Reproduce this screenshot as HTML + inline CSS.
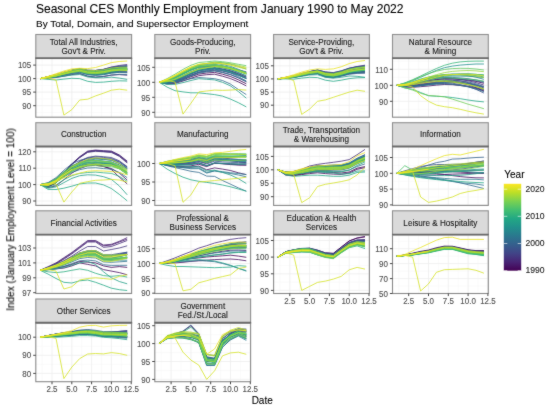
<!DOCTYPE html><html><head><meta charset="utf-8"><style>html,body{margin:0;padding:0;background:#fff;width:550px;height:409px;overflow:hidden}</style></head><body><svg width="550" height="409" viewBox="0 0 550 409" style="display:block">
<defs><filter id="bl" x="0" y="0" width="550" height="409" filterUnits="userSpaceOnUse" color-interpolation-filters="sRGB"><feConvolveMatrix order="3" kernelMatrix="0.0250 0.0500 0.0250 0.0500 0.7000 0.0500 0.0250 0.0500 0.0250" edgeMode="duplicate"/></filter></defs><g filter="url(#bl)">
<rect width="550" height="409" fill="#fff"/>
<clipPath id="c0"><rect x="35.8" y="58.5" width="95.8" height="58.7"/></clipPath>
<path d="M35.8 112.4H131.6M35.8 98.9H131.6M35.8 85.4H131.6M35.8 71.8H131.6M42.1 58.5V117.2M61.9 58.5V117.2M81.7 58.5V117.2M101.5 58.5V117.2M121.3 58.5V117.2" stroke="#f5f5f5" stroke-width="0.5" fill="none"/>
<path d="M35.8 105.7H131.6M35.8 92.1H131.6M35.8 78.6H131.6M35.8 65.1H131.6M52 58.5V117.2M71.8 58.5V117.2M91.6 58.5V117.2M111.4 58.5V117.2M131.2 58.5V117.2" stroke="#ededed" stroke-width="0.8" fill="none"/>
<g clip-path="url(#c0)" fill="none" stroke-width="1.0" stroke-linejoin="round" stroke-opacity="0.8">
<polyline points="40.2,78.6 48.1,77.6 56,76.4 63.9,74.6 71.8,72.7 79.7,71.6 87.7,73.8 95.6,74.6 103.5,73.8 111.4,72.5 119.3,71.9 127.2,72.3" stroke="#440154"/>
<polyline points="40.2,78.6 48.1,78.2 56,77.5 63.9,76.2 71.8,74.6 79.7,73.7 87.7,76.3 95.6,77.2 103.5,76.5 111.4,75.1 119.3,74.6 127.2,75.2" stroke="#450c5e"/>
<polyline points="40.2,78.6 48.1,77.1 56,75.5 63.9,73.5 71.8,71.8 79.7,70.8 87.7,73.1 95.6,74 103.5,73.4 111.4,71.9 119.3,71.2 127.2,71.2" stroke="#461769"/>
<polyline points="40.2,78.6 48.1,76.6 56,74.6 63.9,72.3 71.8,70.3 79.7,69.1 87.7,71.1 95.6,71.7 103.5,71 111.4,69.3 119.3,68.3 127.2,68" stroke="#482273"/>
<polyline points="40.2,78.6 48.1,76.7 56,74.9 63.9,72.4 71.8,70.5 79.7,69.1 87.7,70.4 95.6,70.5 103.5,69.3 111.4,67 119.3,65.5 127.2,64.5" stroke="#462c7a"/>
<polyline points="40.2,78.6 48.1,77.1 56,75.4 63.9,73.3 71.8,71.3 79.7,70.1 87.7,71.8 95.6,72.3 103.5,71.5 111.4,69.8 119.3,68.9 127.2,68.8" stroke="#44367f"/>
<polyline points="40.2,78.6 48.1,76.7 56,74.7 63.9,72.2 71.8,70 79.7,68.5 87.7,70.1 95.6,70.4 103.5,69.5 111.4,67.8 119.3,66.9 127.2,66.8" stroke="#424085"/>
<polyline points="40.2,78.6 48.1,77.1 56,75.4 63.9,73.1 71.8,71.1 79.7,69.5 87.7,70.6 95.6,70.5 103.5,69.4 111.4,67.3 119.3,66.2 127.2,65.6" stroke="#3f4988"/>
<polyline points="40.2,78.6 48.1,76.8 56,75 63.9,72.7 71.8,71 79.7,69.8 87.7,71.5 95.6,71.9 103.5,70.9 111.4,68.8 119.3,67.3 127.2,66.4" stroke="#3b528a"/>
<polyline points="40.2,78.6 48.1,76.7 56,74.8 63.9,72.4 71.8,70.5 79.7,69.1 87.7,70.5 95.6,70.8 103.5,69.8 111.4,67.8 119.3,66.5 127.2,65.8" stroke="#375a8c"/>
<polyline points="40.2,78.6 48.1,76.8 56,75 63.9,72.7 71.8,70.7 79.7,69.5 87.7,71.5 95.6,72.2 103.5,71.6 111.4,70.1 119.3,69.4 127.2,69.4" stroke="#34628d"/>
<polyline points="40.2,78.6 48.1,77.9 56,76.9 63.9,75.5 71.8,74 79.7,73.3 87.7,76 95.6,77.1 103.5,76.4 111.4,75.1 119.3,74.3 127.2,74.6" stroke="#306a8d"/>
<polyline points="40.2,78.6 48.1,77.8 56,76.8 63.9,75.2 71.8,73.5 79.7,72.4 87.7,74.5 95.6,75.2 103.5,74.4 111.4,73 119.3,72.4 127.2,72.8" stroke="#2d728e"/>
<polyline points="40.2,78.6 48.1,77.5 56,76.4 63.9,74.7 71.8,73.1 79.7,72.2 87.7,74.6 95.6,75.4 103.5,74.7 111.4,73.1 119.3,72.2 127.2,72" stroke="#297a8e"/>
<polyline points="40.2,78.6 48.1,77.5 56,76.1 63.9,74.2 71.8,72.3 79.7,70.9 87.7,72.5 95.6,72.8 103.5,71.9 111.4,70.1 119.3,69.3 127.2,69.3" stroke="#27818d"/>
<polyline points="40.2,78.6 48.1,77 56,75.2 63.9,72.9 71.8,70.8 79.7,69.4 87.7,70.9 95.6,71.4 103.5,70.6 111.4,69.1 119.3,68.5 127.2,68.7" stroke="#24898d"/>
<polyline points="40.2,78.6 48.1,77 56,75.3 63.9,73.1 71.8,71.1 79.7,69.8 87.7,71.4 95.6,71.7 103.5,70.7 111.4,68.8 119.3,67.6 127.2,67.1" stroke="#21918c"/>
<polyline points="40.2,78.6 48.1,77.3 56,75.9 63.9,74.1 71.8,72.5 79.7,71.5 87.7,73.7 95.6,74.4 103.5,73.7 111.4,72 119.3,71 127.2,70.7" stroke="#21988a"/>
<polyline points="40.2,78.6 48.1,77.8 56,77.2 63.9,76.2 71.8,75.1 79.7,74.5 87.7,77 95.6,77.8 103.5,77.8 111.4,77.2 119.3,78.1 127.2,79.4" stroke="#229f87"/>
<polyline points="40.2,78.6 48.1,79.4 56,80 63.9,79.1 71.8,78.3 79.7,78.6 87.7,81.3 95.6,82.4 103.5,82.1 111.4,81.3 119.3,80.8 127.2,81" stroke="#22a784"/>
<polyline points="40.2,78.6 48.1,77.3 56,75.9 63.9,74 71.8,72.2 79.7,71.2 87.7,73.3 95.6,73.9 103.5,73.1 111.4,71.4 119.3,70.4 127.2,70.3" stroke="#2aae7f"/>
<polyline points="40.2,78.6 48.1,77 56,75.3 63.9,73.2 71.8,71.2 79.7,70 87.7,72 95.6,72.6 103.5,71.9 111.4,70.4 119.3,69.6 127.2,69.7" stroke="#35b579"/>
<polyline points="40.2,78.6 48.1,77.3 56,75.8 63.9,73.7 71.8,71.8 79.7,70.5 87.7,72.3 95.6,72.7 103.5,71.8 111.4,70.1 119.3,69.2 127.2,69.1" stroke="#40bc72"/>
<polyline points="40.2,78.6 48.1,77.2 56,75.7 63.9,73.6 71.8,71.8 79.7,70.6 87.7,72.6 95.6,73.1 103.5,72.2 111.4,70.4 119.3,69.4 127.2,69.1" stroke="#4ec26a"/>
<polyline points="40.2,78.6 48.1,77 56,75.3 63.9,73 71.8,71 79.7,69.5 87.7,71.2 95.6,71.6 103.5,70.9 111.4,69.4 119.3,68.9 127.2,69.2" stroke="#5fc860"/>
<polyline points="40.2,78.6 48.1,77.4 56,76 63.9,74 71.8,72.1 79.7,70.9 87.7,72.6 95.6,73.1 103.5,72.2 111.4,70.5 119.3,69.6 127.2,69.5" stroke="#70ce57"/>
<polyline points="40.2,78.6 48.1,77.3 56,75.9 63.9,73.8 71.8,72 79.7,70.7 87.7,72.4 95.6,72.7 103.5,71.7 111.4,69.9 119.3,68.8 127.2,68.5" stroke="#82d34c"/>
<polyline points="40.2,78.6 48.1,77.4 56,76.1 63.9,74.2 71.8,72.5 79.7,71.4 87.7,73.3 95.6,73.7 103.5,72.9 111.4,71.1 119.3,70 127.2,69.7" stroke="#97d73e"/>
<polyline points="40.2,78.6 48.1,76.7 56,74.7 63.9,72.3 71.8,70.1 79.7,68.7 87.7,70.2 95.6,70.6 103.5,69.8 111.4,68.1 119.3,67.3 127.2,67.2" stroke="#acdc31"/>
<polyline points="40.2,78.6 48.1,77.3 56,75.8 63.9,73.7 71.8,71.6 79.7,70.2 87.7,71.9 95.6,72.4 103.5,71.7 111.4,70.3 119.3,70 127.2,70.6" stroke="#c1e026"/>
<polyline points="40.2,78.6 48.1,78.1 56,80 63.9,115.1 71.8,109.7 79.7,100 87.7,99.2 95.6,95.9 103.5,93.2 111.4,90.2 119.3,89.2 127.2,90.2" stroke="#d5e226"/>
<polyline points="40.2,78.6 48.1,76.4 56,73.7 63.9,71 71.8,68.9 79.7,68.3 87.7,68.6 95.6,67.5 103.5,65.1 111.4,62.6 119.3,61.5 127.2,61" stroke="#e9e425"/>
<polyline points="40.2,78.6 48.1,76.5 56,74.5 63.9,72 71.8,70" stroke="#fde725"/>
</g>
<rect x="35.8" y="58.5" width="95.8" height="58.7" fill="none" stroke="#8a8a8a" stroke-width="1.1"/>
<rect x="35.8" y="34.5" width="95.8" height="24" fill="#dadada" stroke="#909090" stroke-width="1.1"/>
<path d="M35.3 58.2H132.1" stroke="#6a6a6a" stroke-width="1.7"/>
<path d="M33.2 105.7H35.8M33.2 92.1H35.8M33.2 78.6H35.8M33.2 65.1H35.8" stroke="#333" stroke-width="0.9"/>
<clipPath id="c1"><rect x="154.8" y="58.5" width="95.8" height="58.7"/></clipPath>
<path d="M154.8 104.8H250.6M154.8 89.8H250.6M154.8 74.8H250.6M154.8 59.8H250.6M161.2 58.5V117.2M181 58.5V117.2M200.8 58.5V117.2M220.6 58.5V117.2M240.4 58.5V117.2" stroke="#f5f5f5" stroke-width="0.5" fill="none"/>
<path d="M154.8 112.3H250.6M154.8 97.3H250.6M154.8 82.3H250.6M154.8 67.3H250.6M171.1 58.5V117.2M190.9 58.5V117.2M210.7 58.5V117.2M230.5 58.5V117.2M250.3 58.5V117.2" stroke="#ededed" stroke-width="0.8" fill="none"/>
<g clip-path="url(#c1)" fill="none" stroke-width="1.0" stroke-linejoin="round" stroke-opacity="0.8">
<polyline points="159.2,82.3 167.1,83.5 175,82.5 183,79.8 190.9,76.8 198.8,74.1 206.7,73 214.6,72.4 222.5,74.2 230.5,76.5 238.4,79.8 246.3,83.8" stroke="#440154"/>
<polyline points="159.2,82.3 167.1,84 175,83.4 183,81 190.9,78.3 198.8,75.7 206.7,74.7 214.6,74.2 222.5,76.2 230.5,78.6 238.4,81.9 246.3,85.9" stroke="#450c5e"/>
<polyline points="159.2,82.3 167.1,82.1 175,80.2 183,76.8 190.9,73.3 198.8,70.2 206.7,68.8 214.6,67.8 222.5,69 230.5,70.8 238.4,73.6 246.3,77" stroke="#461769"/>
<polyline points="159.2,82.3 167.1,82.4 175,80.8 183,77.5 190.9,74 198.8,70.8 206.7,69.3 214.6,68.2 222.5,69.5 230.5,71.5 238.4,74.6 246.3,78.4" stroke="#482273"/>
<polyline points="159.2,82.3 167.1,80.2 175,77.1 183,73.2 190.9,69.7 198.8,67.2 206.7,66.7 214.6,66.1 222.5,67 230.5,68.3 238.4,70 246.3,71.8" stroke="#462c7a"/>
<polyline points="159.2,82.3 167.1,82.9 175,81.5 183,78.6 190.9,75.3 198.8,72.5 206.7,71.3 214.6,70.6 222.5,72.3 230.5,74.5 238.4,77.8 246.3,81.7" stroke="#44367f"/>
<polyline points="159.2,82.3 167.1,81.6 175,79.3 183,75.6 190.9,71.8 198.8,68.6 206.7,67.2 214.6,66.2 222.5,67.5 230.5,69.5 238.4,72.5 246.3,76.1" stroke="#424085"/>
<polyline points="159.2,82.3 167.1,80.7 175,77.7 183,73.6 190.9,69.8 198.8,66.8 206.7,65.7 214.6,64.9 222.5,66.2 230.5,67.9 238.4,70.5 246.3,73.4" stroke="#3f4988"/>
<polyline points="159.2,82.3 167.1,82.2 175,80.5 183,77.2 190.9,73.7 198.8,70.6 206.7,69.2 214.6,68.1 222.5,69.2 230.5,71 238.4,73.9 246.3,77.4" stroke="#3b528a"/>
<polyline points="159.2,82.3 167.1,82.7 175,81.2 183,78.2 190.9,75 198.8,72.2 206.7,71 214.6,70 222.5,71.2 230.5,72.8 238.4,75.3 246.3,78.4" stroke="#375a8c"/>
<polyline points="159.2,82.3 167.1,83.3 175,82.2 183,79.1 190.9,75.6 198.8,72.1 206.7,70.4 214.6,69.2 222.5,70.6 230.5,72.9 238.4,76.6 246.3,81" stroke="#34628d"/>
<polyline points="159.2,82.3 167.1,83.5 175,82.6 183,80.5 190.9,78.7 198.8,77.5 206.7,78.1 214.6,78.7 222.5,80.5 230.5,84.1 238.4,89.5 246.3,94.6" stroke="#306a8d"/>
<polyline points="159.2,82.3 167.1,83.2 175,82.1 183,79.3 190.9,76.1 198.8,73.2 206.7,71.9 214.6,71 222.5,72.6 230.5,74.7 238.4,77.8 246.3,81.6" stroke="#2d728e"/>
<polyline points="159.2,82.3 167.1,82 175,80.1 183,76.9 190.9,73.5 198.8,70.8 206.7,69.7 214.6,69 222.5,70.5 230.5,72.4 238.4,75.2 246.3,78.5" stroke="#297a8e"/>
<polyline points="159.2,82.3 167.1,80.6 175,77.6 183,73.4 190.9,69.3 198.8,65.9 206.7,64.5 214.6,63.4 222.5,64.5 230.5,66.4 238.4,69.3 246.3,72.6" stroke="#27818d"/>
<polyline points="159.2,82.3 167.1,80.2 175,77 183,72.6 190.9,68.4 198.8,65 206.7,63.5 214.6,62.2 222.5,62.8 230.5,64.2 238.4,66.4 246.3,69" stroke="#24898d"/>
<polyline points="159.2,82.3 167.1,81 175,78.2 183,74.1 190.9,70.2 198.8,67 206.7,65.6 214.6,64.7 222.5,66 230.5,67.9 238.4,70.9 246.3,74.3" stroke="#21918c"/>
<polyline points="159.2,82.3 167.1,82.2 175,80.4 183,77 190.9,73.5 198.8,70.4 206.7,69.1 214.6,68.2 222.5,69.6 230.5,71.7 238.4,74.9 246.3,78.6" stroke="#21988a"/>
<polyline points="159.2,82.3 167.1,84.4 175,84.4 183,82.6 190.9,80.5 198.8,78.7 206.7,79.3 214.6,79.9 222.5,82.3 230.5,85.9 238.4,91.6 246.3,98.2" stroke="#229f87"/>
<polyline points="159.2,82.3 167.1,87.1 175,90.7 183,91.9 190.9,92.8 198.8,92.8 206.7,93.7 214.6,94.6 222.5,96.1 230.5,99.1 238.4,102.7 246.3,106.9" stroke="#22a784"/>
<polyline points="159.2,82.3 167.1,81.9 175,79.9 183,76.4 190.9,72.8 198.8,69.5 206.7,68.1 214.6,66.9 222.5,67.9 230.5,69.6 238.4,72.5 246.3,75.8" stroke="#2aae7f"/>
<polyline points="159.2,82.3 167.1,80.8 175,78.1 183,74.1 190.9,70.2 198.8,67 206.7,65.8 214.6,64.8 222.5,65.8 230.5,67.6 238.4,70.4 246.3,73.6" stroke="#35b579"/>
<polyline points="159.2,82.3 167.1,80.6 175,77.6 183,73.6 190.9,70 198.8,67.3 206.7,66.5 214.6,65.9 222.5,67.2 230.5,68.9 238.4,71.2 246.3,73.8" stroke="#40bc72"/>
<polyline points="159.2,82.3 167.1,79.8 175,76.3 183,72.1 190.9,68.5 198.8,65.9 206.7,65.4 214.6,65 222.5,66.2 230.5,67.8 238.4,70 246.3,72.3" stroke="#4ec26a"/>
<polyline points="159.2,82.3 167.1,78.6 175,74.2 183,69.4 190.9,65.3 198.8,62.5 206.7,61.8 214.6,61 222.5,61.7 230.5,62.8 238.4,64.3 246.3,65.7" stroke="#5fc860"/>
<polyline points="159.2,82.3 167.1,81.2 175,78.8 183,75.2 190.9,71.6 198.8,68.7 206.7,67.5 214.6,66.5 222.5,67.3 230.5,68.6 238.4,70.6 246.3,73" stroke="#70ce57"/>
<polyline points="159.2,82.3 167.1,80.2 175,76.9 183,72.7 190.9,68.9 198.8,66.1 206.7,65.4 214.6,64.8 222.5,66.2 230.5,68 238.4,70.6 246.3,73.4" stroke="#82d34c"/>
<polyline points="159.2,82.3 167.1,79.7 175,76.2 183,71.8 190.9,67.7 198.8,64.6 206.7,63.4 214.6,62.3 222.5,62.7 230.5,63.7 238.4,65.4 246.3,67.2" stroke="#97d73e"/>
<polyline points="159.2,82.3 167.1,79.3 175,75.6 183,71.2 190.9,67.3 198.8,64.6 206.7,63.8 214.6,63.1 222.5,63.9 230.5,65.3 238.4,67.2 246.3,69.1" stroke="#acdc31"/>
<polyline points="159.2,82.3 167.1,81.6 175,79.4 183,75.9 190.9,72.2 198.8,69.1 206.7,67.7 214.6,66.4 222.5,67.2 230.5,68.7 238.4,71 246.3,73.8" stroke="#c1e026"/>
<polyline points="159.2,82.3 167.1,80.5 175,82 183,114.1 190.9,103.3 198.8,91.9 206.7,91 214.6,90.1 222.5,90.4 230.5,90.1 238.4,89.5 246.3,90.1" stroke="#d5e226"/>
<polyline points="159.2,82.3 167.1,79.2 175,75.3 183,70.8 190.9,66.9 198.8,64.2 206.7,63.5 214.6,62.9 222.5,63.7 230.5,64.8 238.4,66.5 246.3,68.1" stroke="#e9e425"/>
<polyline points="159.2,82.3 167.1,79.5 175,75.8 183,71.3 190.9,67.2" stroke="#fde725"/>
</g>
<rect x="154.8" y="58.5" width="95.8" height="58.7" fill="none" stroke="#8a8a8a" stroke-width="1.1"/>
<rect x="154.8" y="34.5" width="95.8" height="24" fill="#dadada" stroke="#909090" stroke-width="1.1"/>
<path d="M154.3 58.2H251.1" stroke="#6a6a6a" stroke-width="1.7"/>
<path d="M152.2 112.3H154.8M152.2 97.3H154.8M152.2 82.3H154.8M152.2 67.3H154.8" stroke="#333" stroke-width="0.9"/>
<clipPath id="c2"><rect x="273.6" y="58.5" width="95.8" height="58.7"/></clipPath>
<path d="M273.6 111.8H369.4M273.6 98.6H369.4M273.6 85.5H369.4M273.6 72.3H369.4M273.6 59.2H369.4M279.9 58.5V117.2M299.7 58.5V117.2M319.5 58.5V117.2M339.3 58.5V117.2M359.1 58.5V117.2" stroke="#f5f5f5" stroke-width="0.5" fill="none"/>
<path d="M273.6 105.2H369.4M273.6 92.1H369.4M273.6 78.9H369.4M273.6 65.8H369.4M289.8 58.5V117.2M309.6 58.5V117.2M329.4 58.5V117.2M349.2 58.5V117.2M369 58.5V117.2" stroke="#ededed" stroke-width="0.8" fill="none"/>
<g clip-path="url(#c2)" fill="none" stroke-width="1.0" stroke-linejoin="round" stroke-opacity="0.8">
<polyline points="277.9,78.9 285.8,77.8 293.7,76.5 301.7,74.8 309.6,73.1 317.5,72.6 325.4,75.9 333.3,76.7 341.2,75.4 349.2,73.3 357.1,72.3 365,71.9" stroke="#440154"/>
<polyline points="277.9,78.9 285.8,78.2 293.7,77.2 301.7,75.6 309.6,73.9 317.5,73.4 325.4,76.6 333.3,77.2 341.2,75.8 349.2,73.8 357.1,73 365,72.8" stroke="#450c5e"/>
<polyline points="277.9,78.9 285.8,78.3 293.7,77.4 301.7,75.8 309.6,74.2 317.5,73.4 325.4,76.3 333.3,76.8 341.2,75.2 349.2,73 357.1,71.9 365,71.5" stroke="#461769"/>
<polyline points="277.9,78.9 285.8,78 293.7,76.8 301.7,74.9 309.6,73.1 317.5,72 325.4,74.6 333.3,75.3 341.2,73.7 349.2,71.4 357.1,70.3 365,70" stroke="#482273"/>
<polyline points="277.9,78.9 285.8,77.3 293.7,75.6 301.7,73.4 309.6,71.5 317.5,70 325.4,72.2 333.3,73.2 341.2,71.4 349.2,68.5 357.1,66.5 365,65.2" stroke="#462c7a"/>
<polyline points="277.9,78.9 285.8,77.4 293.7,75.7 301.7,73.6 309.6,71.7 317.5,70.6 325.4,73.3 333.3,74.2 341.2,72.7 349.2,70.3 357.1,68.9 365,68.2" stroke="#44367f"/>
<polyline points="277.9,78.9 285.8,77.6 293.7,76 301.7,73.8 309.6,71.7 317.5,70.1 325.4,72.1 333.3,72.8 341.2,71 349.2,68.3 357.1,66.9 365,66.1" stroke="#424085"/>
<polyline points="277.9,78.9 285.8,77.6 293.7,76 301.7,73.8 309.6,71.7 317.5,70 325.4,71.9 333.3,72.6 341.2,70.8 349.2,68.1 357.1,66.6 365,65.9" stroke="#3f4988"/>
<polyline points="277.9,78.9 285.8,77.7 293.7,76.2 301.7,74.2 309.6,72.3 317.5,70.8 325.4,73 333.3,73.6 341.2,71.7 349.2,68.9 357.1,67.1 365,66" stroke="#3b528a"/>
<polyline points="277.9,78.9 285.8,77.7 293.7,76.3 301.7,74.2 309.6,72.3 317.5,70.9 325.4,73.1 333.3,73.8 341.2,72 349.2,69.4 357.1,67.8 365,67" stroke="#375a8c"/>
<polyline points="277.9,78.9 285.8,78 293.7,76.8 301.7,75.1 309.6,73.4 317.5,72.5 325.4,75.1 333.3,75.8 341.2,74 349.2,71.4 357.1,69.8 365,68.8" stroke="#34628d"/>
<polyline points="277.9,78.9 285.8,78.2 293.7,77.3 301.7,75.8 309.6,74.2 317.5,73.8 325.4,77.1 333.3,77.8 341.2,76.3 349.2,74.3 357.1,73.4 365,73.1" stroke="#306a8d"/>
<polyline points="277.9,78.9 285.8,78 293.7,76.8 301.7,75.1 309.6,73.5 317.5,72.8 325.4,75.9 333.3,76.7 341.2,75.3 349.2,73.3 357.1,72.4 365,72.1" stroke="#2d728e"/>
<polyline points="277.9,78.9 285.8,78.3 293.7,77.4 301.7,75.8 309.6,74.3 317.5,73.5 325.4,76.4 333.3,77.1 341.2,75.5 349.2,73.3 357.1,72.2 365,71.8" stroke="#297a8e"/>
<polyline points="277.9,78.9 285.8,77.8 293.7,76.5 301.7,74.6 309.6,72.9 317.5,71.9 325.4,74.6 333.3,75.3 341.2,73.7 349.2,71.3 357.1,70 365,69.4" stroke="#27818d"/>
<polyline points="277.9,78.9 285.8,77.9 293.7,76.6 301.7,74.6 309.6,72.7 317.5,71.4 325.4,73.7 333.3,74.3 341.2,72.5 349.2,69.9 357.1,68.4 365,67.7" stroke="#24898d"/>
<polyline points="277.9,78.9 285.8,77.9 293.7,76.6 301.7,74.8 309.6,73.1 317.5,72.1 325.4,74.8 333.3,75.6 341.2,73.9 349.2,71.5 357.1,70.1 365,69.3" stroke="#21918c"/>
<polyline points="277.9,78.9 285.8,77.9 293.7,76.7 301.7,75 309.6,73.5 317.5,72.9 325.4,76 333.3,76.9 341.2,75.3 349.2,72.7 357.1,71.1 365,70" stroke="#21988a"/>
<polyline points="277.9,78.9 285.8,78.1 293.7,77.6 301.7,76.3 309.6,75 317.5,74.7 325.4,77.3 333.3,78.1 341.2,77.3 349.2,76 357.1,76.3 365,77.3" stroke="#229f87"/>
<polyline points="277.9,78.9 285.8,78.9 293.7,79.2 301.7,78.1 309.6,77.3 317.5,77.6 325.4,80.2 333.3,81.3 341.2,80.2 349.2,78.6 357.1,77.8 365,77.6" stroke="#22a784"/>
<polyline points="277.9,78.9 285.8,77.5 293.7,76 301.7,74.1 309.6,72.4 317.5,71.8 325.4,74.9 333.3,75.9 341.2,74.5 349.2,72.3 357.1,71.1 365,70.5" stroke="#2aae7f"/>
<polyline points="277.9,78.9 285.8,77.7 293.7,76.2 301.7,74.3 309.6,72.6 317.5,71.8 325.4,74.6 333.3,75.5 341.2,74 349.2,71.5 357.1,70.1 365,69.3" stroke="#35b579"/>
<polyline points="277.9,78.9 285.8,77.6 293.7,76.1 301.7,74.1 309.6,72.5 317.5,71.8 325.4,74.8 333.3,75.9 341.2,74.5 349.2,72.2 357.1,70.9 365,70.1" stroke="#40bc72"/>
<polyline points="277.9,78.9 285.8,77.6 293.7,76.1 301.7,74.1 309.6,72.4 317.5,71.6 325.4,74.6 333.3,75.6 341.2,74.2 349.2,72 357.1,70.8 365,70.3" stroke="#4ec26a"/>
<polyline points="277.9,78.9 285.8,77.7 293.7,76.1 301.7,74 309.6,72 317.5,70.6 325.4,72.9 333.3,73.5 341.2,71.7 349.2,69.2 357.1,67.8 365,67.1" stroke="#5fc860"/>
<polyline points="277.9,78.9 285.8,77.9 293.7,76.6 301.7,74.6 309.6,72.8 317.5,71.4 325.4,73.6 333.3,74.2 341.2,72.3 349.2,69.5 357.1,67.7 365,66.7" stroke="#70ce57"/>
<polyline points="277.9,78.9 285.8,78 293.7,76.9 301.7,75.1 309.6,73.5 317.5,72.6 325.4,75.3 333.3,76 341.2,74.3 349.2,71.6 357.1,70 365,69" stroke="#82d34c"/>
<polyline points="277.9,78.9 285.8,77.8 293.7,76.5 301.7,74.7 309.6,73.1 317.5,72.2 325.4,75 333.3,75.7 341.2,74 349.2,71.5 357.1,69.9 365,68.9" stroke="#97d73e"/>
<polyline points="277.9,78.9 285.8,77.6 293.7,76.1 301.7,74.1 309.6,72.3 317.5,71.2 325.4,73.9 333.3,74.8 341.2,73.3 349.2,71 357.1,69.8 365,69.3" stroke="#acdc31"/>
<polyline points="277.9,78.9 285.8,77.7 293.7,76.2 301.7,74.2 309.6,72.3 317.5,71.1 325.4,73.6 333.3,74.3 341.2,72.5 349.2,69.9 357.1,68.4 365,67.6" stroke="#c1e026"/>
<polyline points="277.9,78.9 285.8,77.8 293.7,80.5 301.7,114.4 309.6,109.1 317.5,101.3 325.4,99.9 333.3,97.3 341.2,94.7 349.2,92.1 357.1,90.2 365,91.3" stroke="#d5e226"/>
<polyline points="277.9,78.9 285.8,77.1 293.7,74.7 301.7,72.1 309.6,70 317.5,68.9 325.4,69.4 333.3,68.9 341.2,66.8 349.2,63.6 357.1,61.5 365,60.5" stroke="#e9e425"/>
<polyline points="277.9,78.9 285.8,77.3 293.7,75.4 301.7,73.1 309.6,71.1" stroke="#fde725"/>
</g>
<rect x="273.6" y="58.5" width="95.8" height="58.7" fill="none" stroke="#8a8a8a" stroke-width="1.1"/>
<rect x="273.6" y="34.5" width="95.8" height="24" fill="#dadada" stroke="#909090" stroke-width="1.1"/>
<path d="M273.1 58.2H369.9" stroke="#6a6a6a" stroke-width="1.7"/>
<path d="M270.9 105.2H273.6M270.9 92.1H273.6M270.9 78.9H273.6M270.9 65.8H273.6" stroke="#333" stroke-width="0.9"/>
<clipPath id="c3"><rect x="392.5" y="58.5" width="95.8" height="58.7"/></clipPath>
<path d="M392.5 109.3H488.3M392.5 93.3H488.3M392.5 77.3H488.3M392.5 61.3H488.3M398.8 58.5V117.2M418.6 58.5V117.2M438.4 58.5V117.2M458.2 58.5V117.2M478 58.5V117.2" stroke="#f5f5f5" stroke-width="0.5" fill="none"/>
<path d="M392.5 101.3H488.3M392.5 85.3H488.3M392.5 69.3H488.3M408.7 58.5V117.2M428.5 58.5V117.2M448.3 58.5V117.2M468.1 58.5V117.2M487.9 58.5V117.2" stroke="#ededed" stroke-width="0.8" fill="none"/>
<g clip-path="url(#c3)" fill="none" stroke-width="1.0" stroke-linejoin="round" stroke-opacity="0.8">
<polyline points="396.9,85.3 404.8,85.4 412.7,84 420.6,82.3 428.5,80.8 436.4,79.5 444.4,78.7 452.3,78.8 460.2,79.3 468.1,80.1 476,81.4 483.9,83.3" stroke="#440154"/>
<polyline points="396.9,85.3 404.8,87.1 412.7,87.3 420.6,86.7 428.5,86 436.4,85.1 444.4,84.5 452.3,84.7 460.2,85.5 468.1,86.6 476,88.4 483.9,90.8" stroke="#450c5e"/>
<polyline points="396.9,85.3 404.8,86.6 412.7,86.2 420.6,85 428.5,83.6 436.4,82.2 444.4,81.1 452.3,81.1 460.2,82 468.1,83.6 476,86.1 483.9,89.3" stroke="#461769"/>
<polyline points="396.9,85.3 404.8,86.2 412.7,85.5 420.6,84.2 428.5,83 436.4,81.9 444.4,81.2 452.3,81.7 460.2,83 468.1,84.9 476,87.6 483.9,91" stroke="#482273"/>
<polyline points="396.9,85.3 404.8,85.5 412.7,84.3 420.6,82.6 428.5,81 436.4,79.6 444.4,78.7 452.3,78.8 460.2,79.6 468.1,80.8 476,82.6 483.9,85.1" stroke="#462c7a"/>
<polyline points="396.9,85.3 404.8,85.9 412.7,85 420.6,83.4 428.5,81.9 436.4,80.5 444.4,79.6 452.3,79.9 460.2,80.9 468.1,82.6 476,85 483.9,88.1" stroke="#44367f"/>
<polyline points="396.9,85.3 404.8,86.3 412.7,85.8 420.6,84.9 428.5,84.2 436.4,83.7 444.4,83.5 452.3,84.2 460.2,85.2 468.1,86.3 476,87.7 483.9,89.7" stroke="#424085"/>
<polyline points="396.9,85.3 404.8,84.6 412.7,82.8 420.6,80.7 428.5,79.2 436.4,78.2 444.4,77.7 452.3,78.2 460.2,79 468.1,79.8 476,80.9 483.9,82.4" stroke="#3f4988"/>
<polyline points="396.9,85.3 404.8,86.7 412.7,86.5 420.6,85.6 428.5,84.5 436.4,83.4 444.4,82.7 452.3,83.2 460.2,84.5 468.1,86.5 476,89.4 483.9,93" stroke="#3b528a"/>
<polyline points="396.9,85.3 404.8,86.7 412.7,86.3 420.6,85.2 428.5,83.7 436.4,82.1 444.4,80.7 452.3,80.4 460.2,80.8 468.1,81.9 476,83.8 483.9,86.5" stroke="#375a8c"/>
<polyline points="396.9,85.3 404.8,86.5 412.7,86.1 420.6,85.1 428.5,84.1 436.4,83 444.4,82.3 452.3,82.3 460.2,82.8 468.1,83.6 476,85 483.9,87" stroke="#34628d"/>
<polyline points="396.9,85.3 404.8,86.6 412.7,86.4 420.6,85.4 428.5,84.3 436.4,83 444.4,82.1 452.3,82 460.2,82.5 468.1,83.4 476,84.9 483.9,87.1" stroke="#306a8d"/>
<polyline points="396.9,85.3 404.8,86.7 412.7,86.5 420.6,85.8 428.5,85 436.4,84.2 444.4,83.8 452.3,84.3 460.2,85.4 468.1,86.9 476,89 483.9,91.7" stroke="#2d728e"/>
<polyline points="396.9,85.3 404.8,85.1 412.7,83.6 420.6,81.6 428.5,79.9 436.4,78.4 444.4,77.5 452.3,77.4 460.2,77.9 468.1,78.7 476,79.9 483.9,81.7" stroke="#297a8e"/>
<polyline points="396.9,85.3 404.8,84.5 412.7,82.4 420.6,79.9 428.5,77.7 436.4,75.8 444.4,74.5 452.3,74.2 460.2,74.7 468.1,75.6 476,77.2 483.9,79.3" stroke="#27818d"/>
<polyline points="396.9,85.3 404.8,84.6 412.7,82.7 420.6,80.5 428.5,78.7 436.4,77.3 444.4,76.3 452.3,76.1 460.2,76.1 468.1,76.3 476,76.8 483.9,77.6" stroke="#24898d"/>
<polyline points="396.9,85.3 404.8,83.2 412.7,80.5 420.6,77.3 428.5,73.8 436.4,70.4 444.4,67.7 452.3,66.1 460.2,65.1 468.1,64.5 476,64 483.9,64" stroke="#21918c"/>
<polyline points="396.9,85.3 404.8,85 412.7,83.4 420.6,81.2 428.5,78.9 436.4,76.9 444.4,75.1 452.3,74.1 460.2,73.7 468.1,73.7 476,74.3 483.9,75.4" stroke="#21988a"/>
<polyline points="396.9,85.3 404.8,85.2 412.7,83.7 420.6,81.5 428.5,79.5 436.4,77.5 444.4,75.9 452.3,75.1 460.2,74.8 468.1,74.9 476,75.6 483.9,76.9" stroke="#229f87"/>
<polyline points="396.9,85.3 404.8,88 412.7,89.3 420.6,92.5 428.5,95.7 436.4,96.3 444.4,96.7 452.3,97.5 460.2,98.7 468.1,100 476,101.1 483.9,101.9" stroke="#22a784"/>
<polyline points="396.9,85.3 404.8,84 412.7,81.6 420.6,79 428.5,77.1 436.4,75.7 444.4,74.8 452.3,74.6 460.2,74.6 468.1,74.5 476,74.6 483.9,75" stroke="#2aae7f"/>
<polyline points="396.9,85.3 404.8,82.9 412.7,79.7 420.6,76 428.5,72.2 436.4,68.5 444.4,65.3 452.3,63.2 460.2,61.9 468.1,61.3 476,61.1 483.9,61.1" stroke="#35b579"/>
<polyline points="396.9,85.3 404.8,84.5 412.7,82.4 420.6,80 428.5,78 436.4,76.4 444.4,75.1 452.3,74.6 460.2,74.4 468.1,74.2 476,74.4 483.9,75" stroke="#40bc72"/>
<polyline points="396.9,85.3 404.8,84.7 412.7,83 420.6,81 428.5,79.5 436.4,78.4 444.4,77.9 452.3,78.1 460.2,78.6 468.1,79.1 476,79.9 483.9,81.1" stroke="#4ec26a"/>
<polyline points="396.9,85.3 404.8,83.2 412.7,80.1 420.6,76.6 428.5,73.7 436.4,71.2 444.4,69.5 452.3,68.6 460.2,68.3 468.1,68.4 476,69 483.9,70" stroke="#5fc860"/>
<polyline points="396.9,85.3 404.8,87.7 412.7,90.1 420.6,93.3 428.5,95.5 436.4,96 444.4,96.8 452.3,99.1 460.2,101.6 468.1,104.2 476,106.4 483.9,108.7" stroke="#70ce57"/>
<polyline points="396.9,85.3 404.8,85.3 412.7,84 420.6,82.4 428.5,81.2 436.4,80.5 444.4,80.3 452.3,81.1 460.2,82.6 468.1,84.3 476,86.5 483.9,89.3" stroke="#82d34c"/>
<polyline points="396.9,85.3 404.8,84.5 412.7,82.4 420.6,79.7 428.5,77.1 436.4,74.7 444.4,72.6 452.3,71.4 460.2,70.8 468.1,70.5 476,70.9 483.9,71.7" stroke="#97d73e"/>
<polyline points="396.9,85.3 404.8,84.4 412.7,82.2 420.6,79.7 428.5,77.6 436.4,75.9 444.4,74.7 452.3,74.5 460.2,74.7 468.1,75.2 476,76.1 483.9,77.5" stroke="#acdc31"/>
<polyline points="396.9,85.3 404.8,85.7 412.7,84.6 420.6,83.3 428.5,82.3 436.4,81.6 444.4,81.4 452.3,82.1 460.2,83.4 468.1,84.7 476,86.5 483.9,88.8" stroke="#c1e026"/>
<polyline points="396.9,85.3 404.8,85 412.7,87.1 420.6,95.7 428.5,101.3 436.4,105.1 444.4,106.7 452.3,107.7 460.2,109.3 468.1,111.2 476,112.8 483.9,114.1" stroke="#d5e226"/>
<polyline points="396.9,85.3 404.8,85.1 412.7,83.5 420.6,81.3 428.5,79.2 436.4,77.2 444.4,75.5 452.3,74.6 460.2,74.2 468.1,74.2 476,74.7 483.9,75.8" stroke="#e9e425"/>
<polyline points="396.9,85.3 404.8,84.6 412.7,82.6 420.6,80.1 428.5,77.6" stroke="#fde725"/>
</g>
<rect x="392.5" y="58.5" width="95.8" height="58.7" fill="none" stroke="#8a8a8a" stroke-width="1.1"/>
<rect x="392.5" y="34.5" width="95.8" height="24" fill="#dadada" stroke="#909090" stroke-width="1.1"/>
<path d="M392 58.2H488.8" stroke="#6a6a6a" stroke-width="1.7"/>
<path d="M389.9 101.3H392.5M389.9 85.3H392.5M389.9 69.3H392.5" stroke="#333" stroke-width="0.9"/>
<clipPath id="c4"><rect x="35.8" y="146.7" width="95.8" height="58.7"/></clipPath>
<path d="M35.8 192.8H131.6M35.8 176.4H131.6M35.8 160H131.6M42.1 146.7V205.4M61.9 146.7V205.4M81.7 146.7V205.4M101.5 146.7V205.4M121.3 146.7V205.4" stroke="#f5f5f5" stroke-width="0.5" fill="none"/>
<path d="M35.8 201H131.6M35.8 184.6H131.6M35.8 168.2H131.6M35.8 151.8H131.6M52 146.7V205.4M71.8 146.7V205.4M91.6 146.7V205.4M111.4 146.7V205.4M131.2 146.7V205.4" stroke="#ededed" stroke-width="0.8" fill="none"/>
<g clip-path="url(#c4)" fill="none" stroke-width="1.0" stroke-linejoin="round" stroke-opacity="0.8">
<polyline points="40.2,184.6 48.1,185.6 56,182 63.9,176.1 71.8,170.2 79.7,165.9 87.7,164.3 95.6,163.9 103.5,166.2 111.4,169.5 119.3,177.1 127.2,183.9" stroke="#440154"/>
<polyline points="40.2,184.6 48.1,187.6 56,185.9 63.9,179.7 71.8,173.1 79.7,168.5 87.7,165.9 95.6,165.2 103.5,166.6 111.4,168.5 119.3,173.1 127.2,180" stroke="#450c5e"/>
<polyline points="40.2,184.6 48.1,186.7 56,183.1 63.9,173.4 71.8,164.4 79.7,157.4 87.7,152 95.6,150.8 103.5,151.5 111.4,152 119.3,155.9 127.2,162.3" stroke="#461769"/>
<polyline points="40.2,184.6 48.1,186.6 56,183 63.9,173.1 71.8,163.9 79.7,156.7 87.7,151.1 95.6,150 103.5,150.7 111.4,151.1 119.3,154.9 127.2,161.1" stroke="#482273"/>
<polyline points="40.2,184.6 48.1,186.4 56,182.8 63.9,173.1 71.8,164.1 79.7,157 87.7,151.5 95.6,150.5 103.5,151 111.4,151.5 119.3,155.4 127.2,161.8" stroke="#462c7a"/>
<polyline points="40.2,184.6 48.1,186.4 56,183 63.9,173.4 71.8,164.6 79.7,157.7 87.7,152.3 95.6,151.3 103.5,151.8 111.4,152.5 119.3,156.4 127.2,163" stroke="#44367f"/>
<polyline points="40.2,184.6 48.1,186.2 56,182.6 63.9,175.6 71.8,168.2 79.7,161.1 87.7,157.4 95.6,156.1 103.5,156.7 111.4,157.5 119.3,160.8 127.2,166.6" stroke="#424085"/>
<polyline points="40.2,184.6 48.1,186.1 56,182.3 63.9,175.1 71.8,167.9 79.7,161.6 87.7,158 95.6,156.7 103.5,157.4 111.4,158.4 119.3,161.6 127.2,167.5" stroke="#3f4988"/>
<polyline points="40.2,184.6 48.1,184.1 56,180.5 63.9,173.7 71.8,166.9 79.7,162.7 87.7,159.6 95.6,158.2 103.5,158.5 111.4,159.2 119.3,162.1 127.2,166.9" stroke="#3b528a"/>
<polyline points="40.2,184.6 48.1,182.6 56,177.7 63.9,170.3 71.8,163.8 79.7,160.4 87.7,158.3 95.6,158 103.5,159.2 111.4,160.2 119.3,163.4 127.2,168.3" stroke="#375a8c"/>
<polyline points="40.2,184.6 48.1,183.1 56,178.8 63.9,171.8 71.8,165.8 79.7,162.6 87.7,160.6 95.6,160.2 103.5,161.2 111.4,161.9 119.3,164.8 127.2,169.3" stroke="#34628d"/>
<polyline points="40.2,184.6 48.1,184.5 56,181 63.9,174.8 71.8,169.2 79.7,165.5 87.7,163 95.6,162 103.5,162.7 111.4,163.3 119.3,166.9 127.2,172.7" stroke="#306a8d"/>
<polyline points="40.2,184.6 48.1,185.1 56,182.3 63.9,176.9 71.8,172.4 79.7,169.7 87.7,168 95.6,167.7 103.5,168.6 111.4,169.1 119.3,172.4 127.2,177.7" stroke="#2d728e"/>
<polyline points="40.2,184.6 48.1,185.3 56,182.5 63.9,176.6 71.8,171.3 79.7,167.5 87.7,164.6 95.6,163.2 103.5,163.3 111.4,163.5 119.3,166.8 127.2,172.3" stroke="#297a8e"/>
<polyline points="40.2,184.6 48.1,183.3 56,178.9 63.9,172.3 71.8,166.7 79.7,163.7 87.7,162 95.6,161.9 103.5,163.1 111.4,163.9 119.3,167.2 127.2,172.3" stroke="#27818d"/>
<polyline points="40.2,184.6 48.1,184.4 56,180.9 63.9,174.3 71.8,167.7 79.7,163.6 87.7,160.5 95.6,159.1 103.5,159.6 111.4,160.2 119.3,163.4 127.2,168.5" stroke="#24898d"/>
<polyline points="40.2,184.6 48.1,183.6 56,179.6 63.9,173 71.8,167.6 79.7,164.5 87.7,162.7 95.6,162.5 103.5,163.6 111.4,164.5 119.3,168 127.2,173.5" stroke="#21918c"/>
<polyline points="40.2,184.6 48.1,183.9 56,180 63.9,173.8 71.8,168.8 79.7,165.9 87.7,164.1 95.6,164 103.5,165 111.4,165.5 119.3,168.8 127.2,174.2" stroke="#21988a"/>
<polyline points="40.2,184.6 48.1,188.2 56,186.9 63.9,182.6 71.8,178.4 79.7,175.7 87.7,174.8 95.6,175.1 103.5,176.7 111.4,179.4 119.3,185.9 127.2,194.8" stroke="#229f87"/>
<polyline points="40.2,184.6 48.1,189.4 56,189.5 63.9,188.2 71.8,186.2 79.7,183.9 87.7,183 95.6,183 103.5,184.9 111.4,188.5 119.3,194.4 127.2,200.8" stroke="#22a784"/>
<polyline points="40.2,184.6 48.1,187.1 56,184.9 63.9,179.7 71.8,175.7 79.7,173.4 87.7,172.5 95.6,172.1 103.5,172.8 111.4,173.4 119.3,176.4 127.2,181.3" stroke="#2aae7f"/>
<polyline points="40.2,184.6 48.1,185.1 56,182.3 63.9,176.5 71.8,171.3 79.7,167.8 87.7,165.3 95.6,164.4 103.5,164.9 111.4,165.2 119.3,168.7 127.2,174.3" stroke="#35b579"/>
<polyline points="40.2,184.6 48.1,184.6 56,181.1 63.9,174.6 71.8,168.5 79.7,164.4 87.7,161.4 95.6,160.4 103.5,161.2 111.4,162.5 119.3,167 127.2,173.8" stroke="#40bc72"/>
<polyline points="40.2,184.6 48.1,183.1 56,178.6 63.9,171.7 71.8,165.8 79.7,162.6 87.7,160.7 95.6,160.5 103.5,161.6 111.4,162.4 119.3,165.5 127.2,170.4" stroke="#4ec26a"/>
<polyline points="40.2,184.6 48.1,185 56,182 63.9,175.8 71.8,170 79.7,166.1 87.7,163.2 95.6,161.9 103.5,162.5 111.4,163.2 119.3,166.9 127.2,172.9" stroke="#5fc860"/>
<polyline points="40.2,184.6 48.1,184.4 56,181.1 63.9,175.3 71.8,170.1 79.7,167.5 87.7,165.9 95.6,165.6 103.5,166.4 111.4,166.6 119.3,168.8 127.2,172.8" stroke="#70ce57"/>
<polyline points="40.2,184.6 48.1,183.8 56,179.7 63.9,173 71.8,167.2 79.7,163.6 87.7,161.2 95.6,160.6 103.5,161.4 111.4,162.2 119.3,165.9 127.2,171.7" stroke="#82d34c"/>
<polyline points="40.2,184.6 48.1,185.2 56,182.4 63.9,176.5 71.8,171 79.7,167.4 87.7,164.8 95.6,163.8 103.5,164.4 111.4,165.1 119.3,168.6 127.2,174.1" stroke="#97d73e"/>
<polyline points="40.2,184.6 48.1,184.3 56,181 63.9,175 71.8,169.7 79.7,166.8 87.7,164.9 95.6,164.4 103.5,164.9 111.4,165 119.3,167.3 127.2,171.3" stroke="#acdc31"/>
<polyline points="40.2,184.6 48.1,184.2 56,180.4 63.9,173.5 71.8,166.9 79.7,162.5 87.7,159.3 95.6,157.9 103.5,158.5 111.4,159.6 119.3,163.6 127.2,169.9" stroke="#c1e026"/>
<polyline points="40.2,184.6 48.1,183.6 56,183.9 63.9,202.1 71.8,192 79.7,183.3 87.7,181.6 95.6,180.3 103.5,180 111.4,179.4 119.3,180 127.2,182.1" stroke="#d5e226"/>
<polyline points="40.2,184.6 48.1,185.6 56,181.6 63.9,177.7 71.8,175.1 79.7,173.1 87.7,171.2 95.6,170.7 103.5,171 111.4,171.5 119.3,172.5 127.2,174.8" stroke="#e9e425"/>
<polyline points="40.2,184.6 48.1,184.3 56,180.8 63.9,174.8 71.8,169.5" stroke="#fde725"/>
</g>
<rect x="35.8" y="146.7" width="95.8" height="58.7" fill="none" stroke="#8a8a8a" stroke-width="1.1"/>
<rect x="35.8" y="122.7" width="95.8" height="24" fill="#dadada" stroke="#909090" stroke-width="1.1"/>
<path d="M35.3 146.3H132.1" stroke="#6a6a6a" stroke-width="1.7"/>
<path d="M33.2 201H35.8M33.2 184.6H35.8M33.2 168.2H35.8M33.2 151.8H35.8" stroke="#333" stroke-width="0.9"/>
<clipPath id="c5"><rect x="154.8" y="146.7" width="95.8" height="58.7"/></clipPath>
<path d="M154.8 191.2H250.6M154.8 172.8H250.6M154.8 154.2H250.6M161.2 146.7V205.4M181 146.7V205.4M200.8 146.7V205.4M220.6 146.7V205.4M240.4 146.7V205.4" stroke="#f5f5f5" stroke-width="0.5" fill="none"/>
<path d="M154.8 200.5H250.6M154.8 182H250.6M154.8 163.5H250.6M171.1 146.7V205.4M190.9 146.7V205.4M210.7 146.7V205.4M230.5 146.7V205.4M250.3 146.7V205.4" stroke="#ededed" stroke-width="0.8" fill="none"/>
<g clip-path="url(#c5)" fill="none" stroke-width="1.0" stroke-linejoin="round" stroke-opacity="0.8">
<polyline points="159.2,163.5 167.1,165.1 175,166 183,166.4 190.9,165.9 198.8,164.3 206.7,166.6 214.6,163.3 222.5,163.6 230.5,164.1 238.4,164.7 246.3,164.9" stroke="#440154"/>
<polyline points="159.2,163.5 167.1,165.3 175,166.8 183,167.2 190.9,167.2 198.8,166.1 206.7,169.8 214.6,167.9 222.5,169.1 230.5,170.5 238.4,172.8 246.3,174.6" stroke="#450c5e"/>
<polyline points="159.2,163.5 167.1,164 175,164.2 183,164.3 190.9,164 198.8,162.8 206.7,165.6 214.6,163.1 222.5,163.8 230.5,164.6 238.4,165.1 246.3,165.2" stroke="#461769"/>
<polyline points="159.2,163.5 167.1,163.1 175,162.7 183,162 190.9,160.9 198.8,158.9 206.7,160.5 214.6,157.7 222.5,158.1 230.5,158.8 238.4,159.5 246.3,160.2" stroke="#482273"/>
<polyline points="159.2,163.5 167.1,162.3 175,161.5 183,160.6 190.9,159.6 198.8,157.7 206.7,159.1 214.6,156.4 222.5,156.5 230.5,156.6 238.4,156.3 246.3,156.1" stroke="#462c7a"/>
<polyline points="159.2,163.5 167.1,163.6 175,163.5 183,163.1 190.9,162.1 198.8,160.1 206.7,162 214.6,159.1 222.5,159.7 230.5,160.6 238.4,161.7 246.3,162.7" stroke="#44367f"/>
<polyline points="159.2,163.5 167.1,163.8 175,164.1 183,164 190.9,163.3 198.8,161.5 206.7,163.1 214.6,160.1 222.5,160.1 230.5,160.3 238.4,160.3 246.3,160.3" stroke="#424085"/>
<polyline points="159.2,163.5 167.1,162.2 175,161.4 183,160.5 190.9,159.6 198.8,157.9 206.7,159.6 214.6,157 222.5,157.2 230.5,157.2 238.4,156.7 246.3,156.2" stroke="#3f4988"/>
<polyline points="159.2,163.5 167.1,163.6 175,163.6 183,163.4 190.9,162.9 198.8,161.5 206.7,163.9 214.6,161.2 222.5,161.8 230.5,162.3 238.4,162.6 246.3,162.5" stroke="#3b528a"/>
<polyline points="159.2,163.5 167.1,163.3 175,163 183,162.6 190.9,161.9 198.8,160.3 206.7,162.6 214.6,159.9 222.5,160.4 230.5,160.9 238.4,161.3 246.3,161.3" stroke="#375a8c"/>
<polyline points="159.2,163.5 167.1,164.2 175,164.7 183,164.9 190.9,164.5 198.8,163.1 206.7,165.7 214.6,162.8 222.5,163.2 230.5,163.6 238.4,163.8 246.3,163.6" stroke="#34628d"/>
<polyline points="159.2,163.5 167.1,165.7 175,167.6 183,169.4 190.9,171.3 198.8,172.4 206.7,176.1 214.6,176.4 222.5,180.5 230.5,184.2 238.4,187.9 246.3,191.2" stroke="#306a8d"/>
<polyline points="159.2,163.5 167.1,165.3 175,166.8 183,167.6 190.9,167.9 198.8,167.9 206.7,172.4 214.6,170.9 222.5,172.4 230.5,173.5 238.4,175 246.3,176.8" stroke="#2d728e"/>
<polyline points="159.2,163.5 167.1,165 175,166.5 183,167.6 190.9,168.7 198.8,168.7 206.7,173.1 214.6,170.9 222.5,171.6 230.5,172.8 238.4,173.5 246.3,174.6" stroke="#297a8e"/>
<polyline points="159.2,163.5 167.1,163.3 175,163.1 183,162.6 190.9,161.7 198.8,159.9 206.7,161.6 214.6,158.8 222.5,159.2 230.5,159.8 238.4,160.3 246.3,160.7" stroke="#27818d"/>
<polyline points="159.2,163.5 167.1,162.7 175,162 183,161.3 190.9,160.4 198.8,158.7 206.7,160.8 214.6,158.2 222.5,158.7 230.5,159.2 238.4,159.4 246.3,159.5" stroke="#24898d"/>
<polyline points="159.2,163.5 167.1,163.4 175,163.2 183,162.7 190.9,161.9 198.8,160.2 206.7,162.4 214.6,159.6 222.5,160.1 230.5,160.6 238.4,161.1 246.3,161.3" stroke="#21918c"/>
<polyline points="159.2,163.5 167.1,164.2 175,164.6 183,164.8 190.9,164.5 198.8,163.2 206.7,165.8 214.6,163 222.5,163.6 230.5,164 238.4,164.3 246.3,164.1" stroke="#21988a"/>
<polyline points="159.2,163.5 167.1,164.2 175,165.3 183,166.1 190.9,166.5 198.8,166.8 206.7,170.9 214.6,170.2 222.5,172.4 230.5,175 238.4,178.7 246.3,183.5" stroke="#229f87"/>
<polyline points="159.2,163.5 167.1,169.1 175,173.5 183,177.2 190.9,179.8 198.8,181.3 206.7,182.4 214.6,183.5 222.5,185 230.5,186.8 238.4,189 246.3,191.2" stroke="#22a784"/>
<polyline points="159.2,163.5 167.1,161.8 175,160.6 183,159.5 190.9,158.4 198.8,156.7 206.7,158.3 214.6,155.9 222.5,156.2 230.5,156.3 238.4,155.9 246.3,155.6" stroke="#2aae7f"/>
<polyline points="159.2,163.5 167.1,162 175,160.8 183,159.6 190.9,158.1 198.8,155.7 206.7,156.5 214.6,153.6 222.5,153.6 230.5,153.7 238.4,153.7 246.3,153.9" stroke="#35b579"/>
<polyline points="159.2,163.5 167.1,161.3 175,159.8 183,158.4 190.9,157.1 198.8,155.3 206.7,156.8 214.6,154.4 222.5,154.8 230.5,155 238.4,154.7 246.3,154.5" stroke="#40bc72"/>
<polyline points="159.2,163.5 167.1,162.5 175,161.7 183,160.9 190.9,159.8 198.8,157.9 206.7,159.4 214.6,156.6 222.5,156.7 230.5,156.8 238.4,156.6 246.3,156.4" stroke="#4ec26a"/>
<polyline points="159.2,163.5 167.1,161.8 175,160.6 183,159.4 190.9,158.2 198.8,156.4 206.7,157.8 214.6,155.5 222.5,155.9 230.5,156.3 238.4,156.4 246.3,156.7" stroke="#5fc860"/>
<polyline points="159.2,163.5 167.1,163.2 175,163 183,162.4 190.9,161.2 198.8,158.9 206.7,160.1 214.6,156.9 222.5,156.8 230.5,157 238.4,157.2 246.3,157.5" stroke="#70ce57"/>
<polyline points="159.2,163.5 167.1,162.9 175,162.4 183,162 190.9,161.4 198.8,160.1 206.7,162.5 214.6,160 222.5,160.5 230.5,160.7 238.4,160.5 246.3,159.9" stroke="#82d34c"/>
<polyline points="159.2,163.5 167.1,162 175,161 183,159.8 190.9,158.3 198.8,156 206.7,156.9 214.6,154.1 222.5,154.1 230.5,154.3 238.4,154.3 246.3,154.6" stroke="#97d73e"/>
<polyline points="159.2,163.5 167.1,161.4 175,159.9 183,158.5 190.9,157.1 198.8,155 206.7,156.1 214.6,153.6 222.5,153.9 230.5,154.2 238.4,154.1 246.3,154.3" stroke="#acdc31"/>
<polyline points="159.2,163.5 167.1,163 175,162.7 183,162.1 190.9,161.2 198.8,159.2 206.7,160.7 214.6,157.7 222.5,157.6 230.5,157.6 238.4,157.3 246.3,156.9" stroke="#c1e026"/>
<polyline points="159.2,163.5 167.1,163.5 175,165.7 183,202.3 190.9,194.9 198.8,182 206.7,181.3 214.6,180.5 222.5,179.8 230.5,179 238.4,178.3 246.3,177.2" stroke="#d5e226"/>
<polyline points="159.2,163.5 167.1,161.7 175,159.4 183,157.6 190.9,156.1 198.8,153.9 206.7,154.6 214.6,152.8 222.5,152.4 230.5,151.3 238.4,150.2 246.3,149.4" stroke="#e9e425"/>
<polyline points="159.2,163.5 167.1,162 175,161.1 183,160.1 190.9,158.9" stroke="#fde725"/>
</g>
<rect x="154.8" y="146.7" width="95.8" height="58.7" fill="none" stroke="#8a8a8a" stroke-width="1.1"/>
<rect x="154.8" y="122.7" width="95.8" height="24" fill="#dadada" stroke="#909090" stroke-width="1.1"/>
<path d="M154.3 146.3H251.1" stroke="#6a6a6a" stroke-width="1.7"/>
<path d="M152.2 200.5H154.8M152.2 182H154.8M152.2 163.5H154.8" stroke="#333" stroke-width="0.9"/>
<clipPath id="c6"><rect x="273.6" y="146.7" width="95.8" height="58.7"/></clipPath>
<path d="M273.6 203.4H369.4M273.6 190H369.4M273.6 176.5H369.4M273.6 163.1H369.4M273.6 149.6H369.4M279.9 146.7V205.4M299.7 146.7V205.4M319.5 146.7V205.4M339.3 146.7V205.4M359.1 146.7V205.4" stroke="#f5f5f5" stroke-width="0.5" fill="none"/>
<path d="M273.6 196.7H369.4M273.6 183.2H369.4M273.6 169.8H369.4M273.6 156.4H369.4M289.8 146.7V205.4M309.6 146.7V205.4M329.4 146.7V205.4M349.2 146.7V205.4M369 146.7V205.4" stroke="#ededed" stroke-width="0.8" fill="none"/>
<g clip-path="url(#c6)" fill="none" stroke-width="1.0" stroke-linejoin="round" stroke-opacity="0.8">
<polyline points="277.9,169.8 285.8,174.4 293.7,175.2 301.7,174.1 309.6,172.5 317.5,171.7 325.4,172 333.3,172.5 341.2,173 349.2,172 357.1,168.2 365,166.6" stroke="#440154"/>
<polyline points="277.9,169.8 285.8,175.2 293.7,175.7 301.7,174.6 309.6,173.6 317.5,172.8 325.4,173.6 333.3,174.1 341.2,174.4 349.2,173 357.1,169.3 365,167.6" stroke="#450c5e"/>
<polyline points="277.9,169.8 285.8,173.4 293.7,173.9 301.7,172.8 309.6,171.3 317.5,170.1 325.4,170.3 333.3,169.8 341.2,169.5 349.2,167.5 357.1,163 365,159.6" stroke="#461769"/>
<polyline points="277.9,169.8 285.8,172 293.7,171.4 301.7,169.4 309.6,167.4 317.5,165.9 325.4,166.1 333.3,165.9 341.2,166 349.2,164.1 357.1,159.6 365,156.1" stroke="#482273"/>
<polyline points="277.9,169.8 285.8,173 293.7,172.5 301.7,169.3 309.6,166 317.5,164.4 325.4,163.3 333.3,162.3 341.2,161.2 349.2,159.6 357.1,154.7 365,149.4" stroke="#462c7a"/>
<polyline points="277.9,169.8 285.8,172.3 293.7,172 301.7,170.2 309.6,168.2 317.5,166.6 325.4,166.8 333.3,166.5 341.2,166.6 349.2,164.8 357.1,160.4 365,157.2" stroke="#44367f"/>
<polyline points="277.9,169.8 285.8,172.4 293.7,172.2 301.7,170.5 309.6,168.7 317.5,167.3 325.4,167.6 333.3,167.2 341.2,167.2 349.2,165.1 357.1,160.2 365,156.3" stroke="#424085"/>
<polyline points="277.9,169.8 285.8,172.5 293.7,172.5 301.7,170.9 309.6,169.2 317.5,167.7 325.4,167.9 333.3,167.5 341.2,167.5 349.2,165.2 357.1,160.2 365,156.3" stroke="#3f4988"/>
<polyline points="277.9,169.8 285.8,172.1 293.7,171.7 301.7,169.8 309.6,167.9 317.5,166.3 325.4,166.5 333.3,166.1 341.2,166 349.2,163.8 357.1,158.8 365,154.8" stroke="#3b528a"/>
<polyline points="277.9,169.8 285.8,172.1 293.7,171.6 301.7,169.5 309.6,167.4 317.5,165.5 325.4,165.5 333.3,165 341.2,165 349.2,162.9 357.1,158.2 365,154.7" stroke="#375a8c"/>
<polyline points="277.9,169.8 285.8,172.1 293.7,171.7 301.7,169.8 309.6,168 317.5,166.6 325.4,167 333.3,166.8 341.2,166.8 349.2,164.8 357.1,160 365,156.2" stroke="#34628d"/>
<polyline points="277.9,169.8 285.8,173.6 293.7,174.2 301.7,173.3 309.6,171.9 317.5,171 325.4,171.4 333.3,171.3 341.2,171.4 349.2,170.1 357.1,166.5 365,163.9" stroke="#306a8d"/>
<polyline points="277.9,169.8 285.8,173.5 293.7,174 301.7,173 309.6,171.3 317.5,170 325.4,170 333.3,169.4 341.2,169.1 349.2,167.2 357.1,162.8 365,159.6" stroke="#2d728e"/>
<polyline points="277.9,169.8 285.8,173.1 293.7,173.4 301.7,172.3 309.6,170.8 317.5,169.7 325.4,170.2 333.3,170 341.2,170 349.2,168.2 357.1,164 365,160.7" stroke="#297a8e"/>
<polyline points="277.9,169.8 285.8,172.4 293.7,172.1 301.7,170.2 309.6,168.1 317.5,166.3 325.4,166.3 333.3,165.7 341.2,165.6 349.2,163.7 357.1,159.4 365,156.1" stroke="#27818d"/>
<polyline points="277.9,169.8 285.8,172.4 293.7,172.1 301.7,170.2 309.6,168.1 317.5,166.2 325.4,166 333.3,165.4 341.2,165.3 349.2,163.4 357.1,159 365,155.8" stroke="#24898d"/>
<polyline points="277.9,169.8 285.8,172.4 293.7,172.2 301.7,170.5 309.6,168.6 317.5,167.2 325.4,167.5 333.3,167.3 341.2,167.5 349.2,165.8 357.1,161.6 365,158.5" stroke="#21918c"/>
<polyline points="277.9,169.8 285.8,172.8 293.7,172.8 301.7,171.3 309.6,169.6 317.5,168.2 325.4,168.4 333.3,168.1 341.2,168.1 349.2,166.3 357.1,162 365,158.8" stroke="#21988a"/>
<polyline points="277.9,169.8 285.8,174.1 293.7,174.4 301.7,173.3 309.6,172.2 317.5,171.7 325.4,172.5 333.3,173 341.2,174.1 349.2,173.6 357.1,171.1 365,170.9" stroke="#229f87"/>
<polyline points="277.9,169.8 285.8,174.9 293.7,176.3 301.7,175.7 309.6,175.2 317.5,175.2 325.4,175.7 333.3,176.3 341.2,176.3 349.2,175.2 357.1,172.5 365,172" stroke="#22a784"/>
<polyline points="277.9,169.8 285.8,173.2 293.7,173.6 301.7,172.7 309.6,171.5 317.5,170.9 325.4,171.7 333.3,171.8 341.2,171.9 349.2,170.1 357.1,165.5 365,161.9" stroke="#2aae7f"/>
<polyline points="277.9,169.8 285.8,173 293.7,173.2 301.7,171.9 309.6,170.4 317.5,169.3 325.4,169.7 333.3,169.5 341.2,169.5 349.2,167.6 357.1,163 365,159.5" stroke="#35b579"/>
<polyline points="277.9,169.8 285.8,172.6 293.7,172.5 301.7,170.9 309.6,169 317.5,167.4 325.4,167.6 333.3,167.2 341.2,167.2 349.2,165.5 357.1,161.3 365,158.2" stroke="#40bc72"/>
<polyline points="277.9,169.8 285.8,172.4 293.7,172.1 301.7,170.4 309.6,168.6 317.5,167.3 325.4,167.8 333.3,167.7 341.2,167.8 349.2,166 357.1,161.6 365,158.2" stroke="#4ec26a"/>
<polyline points="277.9,169.8 285.8,172.6 293.7,172.5 301.7,170.9 309.6,169.2 317.5,167.8 325.4,168.2 333.3,168 341.2,168.1 349.2,166.4 357.1,162.1 365,158.8" stroke="#5fc860"/>
<polyline points="277.9,169.8 285.8,172.2 293.7,171.8 301.7,170 309.6,168 317.5,166.6 325.4,166.9 333.3,166.7 341.2,166.7 349.2,164.9 357.1,160.4 365,157" stroke="#70ce57"/>
<polyline points="277.9,169.8 285.8,172.9 293.7,173 301.7,171.5 309.6,169.6 317.5,168.1 325.4,168.2 333.3,167.9 341.2,168 349.2,166.8 357.1,163.1 365,160.7" stroke="#82d34c"/>
<polyline points="277.9,169.8 285.8,172.6 293.7,172.5 301.7,171 309.6,169.3 317.5,168 325.4,168.4 333.3,168.2 341.2,168.1 349.2,166.1 357.1,161.5 365,157.9" stroke="#97d73e"/>
<polyline points="277.9,169.8 285.8,172.9 293.7,173.1 301.7,171.6 309.6,169.7 317.5,168.1 325.4,168.1 333.3,167.5 341.2,167.3 349.2,165.3 357.1,160.9 365,157.6" stroke="#acdc31"/>
<polyline points="277.9,169.8 285.8,173.3 293.7,173.7 301.7,172.6 309.6,171 317.5,169.6 325.4,169.8 333.3,169.4 341.2,169.3 349.2,167.6 357.1,163.4 365,160.3" stroke="#c1e026"/>
<polyline points="277.9,169.8 285.8,173.6 293.7,174.4 301.7,202.6 309.6,197.8 317.5,186.5 325.4,184.3 333.3,183 341.2,181.6 349.2,179.8 357.1,174.9 365,167.6" stroke="#d5e226"/>
<polyline points="277.9,169.8 285.8,172.5 293.7,171.4 301.7,168.7 309.6,167.1 317.5,165.8 325.4,165.5 333.3,165 341.2,164.4 349.2,161.7 357.1,155.8 365,152.6" stroke="#e9e425"/>
<polyline points="277.9,169.8 285.8,172.2 293.7,171.7 301.7,169.5 309.6,167.2" stroke="#fde725"/>
</g>
<rect x="273.6" y="146.7" width="95.8" height="58.7" fill="none" stroke="#8a8a8a" stroke-width="1.1"/>
<rect x="273.6" y="122.7" width="95.8" height="24" fill="#dadada" stroke="#909090" stroke-width="1.1"/>
<path d="M273.1 146.3H369.9" stroke="#6a6a6a" stroke-width="1.7"/>
<path d="M270.9 196.7H273.6M270.9 183.2H273.6M270.9 169.8H273.6M270.9 156.4H273.6" stroke="#333" stroke-width="0.9"/>
<clipPath id="c7"><rect x="392.5" y="146.7" width="95.8" height="58.7"/></clipPath>
<path d="M392.5 197H488.3M392.5 181.2H488.3M392.5 165.4H488.3M392.5 149.6H488.3M398.8 146.7V205.4M418.6 146.7V205.4M438.4 146.7V205.4M458.2 146.7V205.4M478 146.7V205.4" stroke="#f5f5f5" stroke-width="0.5" fill="none"/>
<path d="M392.5 204.9H488.3M392.5 189.1H488.3M392.5 173.3H488.3M392.5 157.5H488.3M408.7 146.7V205.4M428.5 146.7V205.4M448.3 146.7V205.4M468.1 146.7V205.4M487.9 146.7V205.4" stroke="#ededed" stroke-width="0.8" fill="none"/>
<g clip-path="url(#c7)" fill="none" stroke-width="1.0" stroke-linejoin="round" stroke-opacity="0.8">
<polyline points="396.9,173.3 404.8,173 412.7,172.8 420.6,172.5 428.5,172.2 436.4,172 444.4,171.7 452.3,171.8 460.2,172.1 468.1,172.5 476,173.1 483.9,173.5" stroke="#440154"/>
<polyline points="396.9,173.3 404.8,172.8 412.7,172.4 420.6,172.4 428.5,172.8 436.4,173.6 444.4,174.5 452.3,175.6 460.2,176.6 468.1,177.3 476,177.8 483.9,177.9" stroke="#450c5e"/>
<polyline points="396.9,173.3 404.8,174 412.7,174.5 420.6,174.8 428.5,175 436.4,174.9 444.4,174.5 452.3,174.2 460.2,173.9 468.1,173.5 476,173.1 483.9,172.5" stroke="#461769"/>
<polyline points="396.9,173.3 404.8,173 412.7,172.5 420.6,171.4 428.5,170.1 436.4,168.5 444.4,167.1 452.3,165.6 460.2,164.7 468.1,163.5 476,162.8 483.9,162.4" stroke="#482273"/>
<polyline points="396.9,173.3 404.8,171.7 412.7,170.2 420.6,168.6 428.5,167.6 436.4,166.7 444.4,166.2 452.3,165.7 460.2,165.3 468.1,164.4 476,163.3 483.9,162.3" stroke="#462c7a"/>
<polyline points="396.9,173.3 404.8,172.7 412.7,172.1 420.6,171.5 428.5,171.2 436.4,170.9 444.4,170.8 452.3,170.8 460.2,170.9 468.1,170.6 476,170.3 483.9,169.9" stroke="#44367f"/>
<polyline points="396.9,173.3 404.8,172.7 412.7,172 420.6,170.8 428.5,169.8 436.4,168.6 444.4,167.7 452.3,166.5 460.2,165.5 468.1,163.9 476,162.3 483.9,161" stroke="#424085"/>
<polyline points="396.9,173.3 404.8,173 412.7,172.7 420.6,172 428.5,171.5 436.4,170.9 444.4,170.5 452.3,169.8 460.2,169.2 468.1,168.1 476,166.9 483.9,165.8" stroke="#3f4988"/>
<polyline points="396.9,173.3 404.8,170.8 412.7,168.6 420.6,166.5 428.5,165.3 436.4,164.5 444.4,164.5 452.3,164.3 460.2,164.2 468.1,163.4 476,162.2 483.9,161.1" stroke="#3b528a"/>
<polyline points="396.9,173.3 404.8,172.3 412.7,171.4 420.6,170.3 428.5,169.6 436.4,168.9 444.4,168.6 452.3,168.2 460.2,167.9 468.1,167.2 476,166.3 483.9,165.5" stroke="#375a8c"/>
<polyline points="396.9,173.3 404.8,171.4 412.7,169.5 420.6,167.6 428.5,165.1 436.4,162.6 444.4,161.3 452.3,159.1 460.2,158.8 468.1,158.1 476,157.5 483.9,157.2" stroke="#34628d"/>
<polyline points="396.9,173.3 404.8,173.9 412.7,174.6 420.6,175.8 428.5,177.1 436.4,178.4 444.4,179.6 452.3,180.9 460.2,182.8 468.1,184.7 476,186.6 483.9,188.5" stroke="#306a8d"/>
<polyline points="396.9,173.3 404.8,174.6 412.7,175.8 420.6,177.1 428.5,178 436.4,179 444.4,180.3 452.3,181.5 460.2,182.8 468.1,183.4 476,184 483.9,185.3" stroke="#2d728e"/>
<polyline points="396.9,173.3 404.8,174.6 412.7,175.5 420.6,176.5 428.5,177.1 436.4,177.7 444.4,178.4 452.3,179 460.2,179.3 468.1,179.3 476,179.3 483.9,179.9" stroke="#297a8e"/>
<polyline points="396.9,173.3 404.8,173.3 412.7,173.2 420.6,172.7 428.5,172.3 436.4,171.7 444.4,171.3 452.3,171.2 460.2,171.4 468.1,171.8 476,172.4 483.9,173.1" stroke="#27818d"/>
<polyline points="396.9,173.3 404.8,171.5 412.7,169.9 420.6,168.4 428.5,167.6 436.4,167 444.4,167.1 452.3,166.9 460.2,166.7 468.1,165.6 476,164.2 483.9,162.9" stroke="#24898d"/>
<polyline points="396.9,173.3 404.8,172.3 412.7,171.2 420.6,169.8 428.5,168.5 436.4,167.1 444.4,166.2 452.3,165.5 460.2,165.4 468.1,165.3 476,165.6 483.9,166.2" stroke="#21918c"/>
<polyline points="396.9,173.3 404.8,173.7 412.7,173.9 420.6,173.7 428.5,173.3 436.4,172.6 444.4,171.8 452.3,171 460.2,170.5 468.1,169.9 476,169.4 483.9,169" stroke="#21988a"/>
<polyline points="396.9,173.3 404.8,173.8 412.7,174.3 420.6,174.8 428.5,175.2 436.4,175.6 444.4,175.6 452.3,175.5 460.2,175.3 468.1,174.6 476,173.7 483.9,172.5" stroke="#229f87"/>
<polyline points="396.9,173.3 404.8,174.9 412.7,176.5 420.6,177.7 428.5,178.7 436.4,179.6 444.4,180.3 452.3,180.9 460.2,181.5 468.1,182.1 476,182.5 483.9,182.8" stroke="#22a784"/>
<polyline points="396.9,173.3 404.8,173.8 412.7,174.1 420.6,174.1 428.5,173.8 436.4,173.2 444.4,172.5 452.3,171.8 460.2,171.4 468.1,170.9 476,170.6 483.9,170.3" stroke="#2aae7f"/>
<polyline points="396.9,173.3 404.8,172.3 412.7,171.3 420.6,170 428.5,168.9 436.4,167.7 444.4,166.9 452.3,166 460.2,165.5 468.1,164.6 476,163.8 483.9,163.2" stroke="#35b579"/>
<polyline points="396.9,173.3 404.8,171.7 412.7,170.3 420.6,169 428.5,168.2 436.4,167.7 444.4,167.7 452.3,167.5 460.2,167.4 468.1,166.7 476,165.8 483.9,164.8" stroke="#40bc72"/>
<polyline points="396.9,173.3 404.8,165.7 412.7,170.1 420.6,170.8 428.5,169.5 436.4,168.9 444.4,168.9 452.3,167.6 460.2,167.6 468.1,167 476,166 483.9,165.4" stroke="#4ec26a"/>
<polyline points="396.9,173.3 404.8,171.8 412.7,170.4 420.6,169.1 428.5,168.3 436.4,167.7 444.4,167.5 452.3,167.3 460.2,167.1 468.1,166.5 476,165.6 483.9,164.7" stroke="#5fc860"/>
<polyline points="396.9,173.3 404.8,172.8 412.7,172.3 420.6,171.5 428.5,170.8 436.4,170.1 444.4,169.6 452.3,168.9 460.2,168.3 468.1,167.1 476,165.9 483.9,164.7" stroke="#70ce57"/>
<polyline points="396.9,173.3 404.8,172.2 412.7,171.3 420.6,170.5 428.5,170.1 436.4,170 444.4,170.1 452.3,170.1 460.2,169.9 468.1,169 476,167.7 483.9,166.3" stroke="#82d34c"/>
<polyline points="396.9,173.3 404.8,173.8 412.7,174.1 420.6,173.6 428.5,172.7 436.4,171.3 444.4,170.1 452.3,168.5 460.2,167.3 468.1,165.9 476,164.7 483.9,163.9" stroke="#97d73e"/>
<polyline points="396.9,173.3 404.8,171.7 412.7,170.2 420.6,168.5 428.5,167.1 436.4,165.9 444.4,165.1 452.3,164.3 460.2,163.9 468.1,163.1 476,162.4 483.9,161.9" stroke="#acdc31"/>
<polyline points="396.9,173.3 404.8,172.5 412.7,171.6 420.6,170.3 428.5,169.1 436.4,167.8 444.4,166.8 452.3,165.8 460.2,165.1 468.1,164.2 476,163.4 483.9,162.8" stroke="#c1e026"/>
<polyline points="396.9,173.3 404.8,172.7 412.7,171.7 420.6,197 428.5,202.4 436.4,201.1 444.4,199.2 452.3,197 460.2,193.5 468.1,191.6 476,190.4 483.9,188.8" stroke="#d5e226"/>
<polyline points="396.9,173.3 404.8,171.4 412.7,169.2 420.6,165.7 428.5,162.2 436.4,158.8 444.4,155.6 452.3,154.3 460.2,155 468.1,153.1 476,151.2 483.9,149.3" stroke="#e9e425"/>
<polyline points="396.9,173.3 404.8,172.4 412.7,171.5 420.6,170.3 428.5,169.2" stroke="#fde725"/>
</g>
<rect x="392.5" y="146.7" width="95.8" height="58.7" fill="none" stroke="#8a8a8a" stroke-width="1.1"/>
<rect x="392.5" y="122.7" width="95.8" height="24" fill="#dadada" stroke="#909090" stroke-width="1.1"/>
<path d="M392 146.3H488.8" stroke="#6a6a6a" stroke-width="1.7"/>
<path d="M389.9 204.9H392.5M389.9 189.1H392.5M389.9 173.3H392.5M389.9 157.5H392.5" stroke="#333" stroke-width="0.9"/>
<clipPath id="c8"><rect x="35.8" y="234.8" width="95.8" height="58.7"/></clipPath>
<path d="M35.8 285.2H131.6M35.8 270.3H131.6M35.8 255.4H131.6M35.8 240.5H131.6M42.1 234.8V293.5M61.9 234.8V293.5M81.7 234.8V293.5M101.5 234.8V293.5M121.3 234.8V293.5" stroke="#f5f5f5" stroke-width="0.5" fill="none"/>
<path d="M35.8 292.7H131.6M35.8 277.8H131.6M35.8 262.9H131.6M35.8 248H131.6M52 234.8V293.5M71.8 234.8V293.5M91.6 234.8V293.5M111.4 234.8V293.5M131.2 234.8V293.5" stroke="#ededed" stroke-width="0.8" fill="none"/>
<g clip-path="url(#c8)" fill="none" stroke-width="1.0" stroke-linejoin="round" stroke-opacity="0.8">
<polyline points="40.2,270.3 48.1,268.9 56,268.1 63.9,266.6 71.8,264.4 79.7,261.4 87.7,262.2 95.6,262.9 103.5,265.9 111.4,267.4 119.3,266.6 127.2,267.4" stroke="#440154"/>
<polyline points="40.2,270.3 48.1,269.6 56,268.9 63.9,268.1 71.8,265.9 79.7,262.9 87.7,264.4 95.6,265.9 103.5,269.6 111.4,271.1 119.3,272.6 127.2,274.8" stroke="#450c5e"/>
<polyline points="40.2,270.3 48.1,267.4 56,263.6 63.9,258.4 71.8,253.2 79.7,247.3 87.7,241.3 95.6,241.3 103.5,245.8 111.4,245 119.3,242 127.2,239.1" stroke="#461769"/>
<polyline points="40.2,270.3 48.1,266.6 56,262.9 63.9,257.7 71.8,252.5 79.7,246.5 87.7,240.5 95.6,240.5 103.5,245 111.4,244.3 119.3,241.3 127.2,237.6" stroke="#482273"/>
<polyline points="40.2,270.3 48.1,267.4 56,263.6 63.9,259.2 71.8,254 79.7,248 87.7,242 95.6,242 103.5,247.3 111.4,246.5 119.3,243.5 127.2,240.5" stroke="#462c7a"/>
<polyline points="40.2,270.3 48.1,268.1 56,264.4 63.9,260.7 71.8,256.2 79.7,251 87.7,246.5 95.6,246.5 103.5,251 111.4,249.5 119.3,248 127.2,245.8" stroke="#44367f"/>
<polyline points="40.2,270.3 48.1,267.6 56,264.8 63.9,261.3 71.8,257.1 79.7,253 87.7,251.2 95.6,251.4 103.5,255.7 111.4,255.9 119.3,254.7 127.2,253.5" stroke="#424085"/>
<polyline points="40.2,270.3 48.1,267.7 56,265.1 63.9,261.7 71.8,257.6 79.7,253.5 87.7,251.5 95.6,251.7 103.5,256.2 111.4,256.1 119.3,254.4 127.2,252.7" stroke="#3f4988"/>
<polyline points="40.2,270.3 48.1,267.9 56,265.3 63.9,261.9 71.8,257.5 79.7,253 87.7,250.7 95.6,250.5 103.5,254.7 111.4,254.7 119.3,253.4 127.2,252.2" stroke="#3b528a"/>
<polyline points="40.2,270.3 48.1,268.1 56,265.8 63.9,262.5 71.8,258.5 79.7,254.2 87.7,252 95.6,251.9 103.5,256.1 111.4,255.8 119.3,254 127.2,252.2" stroke="#375a8c"/>
<polyline points="40.2,270.3 48.1,267.9 56,265.4 63.9,262.3 71.8,258.6 79.7,255.1 87.7,253.7 95.6,254.2 103.5,258.4 111.4,258.3 119.3,256.6 127.2,254.8" stroke="#34628d"/>
<polyline points="40.2,270.3 48.1,269.8 56,268.5 63.9,266.4 71.8,263.6 79.7,260.8 87.7,260.1 95.6,260.9 103.5,264.7 111.4,265.4 119.3,265.3 127.2,265.3" stroke="#306a8d"/>
<polyline points="40.2,270.3 48.1,269.3 56,267.6 63.9,265.1 71.8,261.9 79.7,258.6 87.7,257.5 95.6,258 103.5,261.9 111.4,262.3 119.3,261.8 127.2,261.3" stroke="#2d728e"/>
<polyline points="40.2,270.3 48.1,268.4 56,266.1 63.9,263 71.8,259.2 79.7,255.5 87.7,254.1 95.6,254.7 103.5,259.1 111.4,260.1 119.3,260.1 127.2,260.2" stroke="#297a8e"/>
<polyline points="40.2,270.3 48.1,268.1 56,265.6 63.9,262.4 71.8,258.5 79.7,254.7 87.7,253.2 95.6,253.8 103.5,258.2 111.4,258.9 119.3,258.5 127.2,258.1" stroke="#27818d"/>
<polyline points="40.2,270.3 48.1,268.2 56,265.8 63.9,262.7 71.8,259 79.7,255.2 87.7,253.7 95.6,254 103.5,258.1 111.4,258 119.3,256.4 127.2,254.7" stroke="#24898d"/>
<polyline points="40.2,270.3 48.1,268.6 56,266.6 63.9,263.8 71.8,260.3 79.7,256.8 87.7,255.4 95.6,255.9 103.5,260.1 111.4,260.3 119.3,259.2 127.2,258" stroke="#21918c"/>
<polyline points="40.2,270.3 48.1,267.7 56,264.7 63.9,261.4 71.8,257.7 79.7,254.2 87.7,253.2 95.6,254.1 103.5,258.3 111.4,258.8 119.3,258.1 127.2,257.2" stroke="#21988a"/>
<polyline points="40.2,270.3 48.1,269.6 56,268.9 63.9,267.4 71.8,265.1 79.7,262.9 87.7,261.4 95.6,264.4 103.5,271.8 111.4,277.8 119.3,281.5 127.2,283.8" stroke="#229f87"/>
<polyline points="40.2,270.3 48.1,274.1 56,278.5 63.9,282.3 71.8,283 79.7,280.8 87.7,280 95.6,282.3 103.5,285.2 111.4,288.2 119.3,289.7 127.2,290.5" stroke="#22a784"/>
<polyline points="40.2,270.3 48.1,271.8 56,272.6 63.9,271.8 71.8,270.3 79.7,268.9 87.7,270.3 95.6,273.3 103.5,275.6 111.4,276.3 119.3,275.6 127.2,277.1" stroke="#2aae7f"/>
<polyline points="40.2,270.3 48.1,268.1 56,265.7 63.9,262.6 71.8,259.1 79.7,255.6 87.7,254.4 95.6,255.1 103.5,259.3 111.4,259.5 119.3,258.3 127.2,257.1" stroke="#35b579"/>
<polyline points="40.2,270.3 48.1,268.1 56,265.5 63.9,262.3 71.8,258.6 79.7,255.1 87.7,253.9 95.6,254.5 103.5,258.8 111.4,259.2 119.3,258.5 127.2,257.7" stroke="#40bc72"/>
<polyline points="40.2,270.3 48.1,268.3 56,265.8 63.9,262.4 71.8,258.1 79.7,253.7 87.7,251.5 95.6,251.3 103.5,255.3 111.4,255.6 119.3,254.9 127.2,254.4" stroke="#4ec26a"/>
<polyline points="40.2,270.3 48.1,268 56,265.4 63.9,262.3 71.8,258.5 79.7,254.9 87.7,253.4 95.6,253.9 103.5,258.1 111.4,258 119.3,256.5 127.2,254.8" stroke="#5fc860"/>
<polyline points="40.2,270.3 48.1,269 56,267.2 63.9,264.5 71.8,260.7 79.7,256.7 87.7,254.7 95.6,254.7 103.5,258.6 111.4,258.7 119.3,257.8 127.2,257" stroke="#70ce57"/>
<polyline points="40.2,270.3 48.1,269 56,267.2 63.9,264.6 71.8,261.1 79.7,257.5 87.7,255.9 95.6,256.2 103.5,260.2 111.4,260.2 119.3,259.1 127.2,257.9" stroke="#82d34c"/>
<polyline points="40.2,270.3 48.1,268.5 56,266.3 63.9,263.1 71.8,259 79.7,254.7 87.7,252.5 95.6,252.3 103.5,256.3 111.4,256.4 119.3,255.4 127.2,254.5" stroke="#97d73e"/>
<polyline points="40.2,270.3 48.1,268.2 56,265.6 63.9,262 71.8,257.6 79.7,253 87.7,250.8 95.6,250.6 103.5,254.7 111.4,255.2 119.3,254.8 127.2,254.7" stroke="#acdc31"/>
<polyline points="40.2,270.3 48.1,268.5 56,266.4 63.9,263.7 71.8,260.5 79.7,257.4 87.7,256.4 95.6,257.2 103.5,261.3 111.4,261.4 119.3,259.9 127.2,258.2" stroke="#c1e026"/>
<polyline points="40.2,270.3 48.1,269.6 56,271.1 63.9,289 71.8,286.7 79.7,280 87.7,278.5 95.6,277.8 103.5,278.5 111.4,279.3 119.3,276.3 127.2,274.8" stroke="#d5e226"/>
<polyline points="40.2,270.3 48.1,268.5 56,266.5 63.9,263.4 71.8,259.4 79.7,255.2 87.7,253 95.6,252.9 103.5,257 111.4,257 119.3,255.8 127.2,254.6" stroke="#e9e425"/>
<polyline points="40.2,270.3 48.1,267.8 56,265 63.9,261.6 71.8,257.5" stroke="#fde725"/>
</g>
<rect x="35.8" y="234.8" width="95.8" height="58.7" fill="none" stroke="#8a8a8a" stroke-width="1.1"/>
<rect x="35.8" y="210.8" width="95.8" height="24" fill="#dadada" stroke="#909090" stroke-width="1.1"/>
<path d="M35.3 234.5H132.1" stroke="#6a6a6a" stroke-width="1.7"/>
<path d="M33.2 292.7H35.8M33.2 277.8H35.8M33.2 262.9H35.8M33.2 248H35.8" stroke="#333" stroke-width="0.9"/>
<clipPath id="c9"><rect x="154.8" y="234.8" width="95.8" height="58.7"/></clipPath>
<path d="M154.8 285.8H250.6M154.8 270.9H250.6M154.8 256.1H250.6M154.8 241.2H250.6M161.2 234.8V293.5M181 234.8V293.5M200.8 234.8V293.5M220.6 234.8V293.5M240.4 234.8V293.5" stroke="#f5f5f5" stroke-width="0.5" fill="none"/>
<path d="M154.8 293.2H250.6M154.8 278.4H250.6M154.8 263.5H250.6M154.8 248.7H250.6M171.1 234.8V293.5M190.9 234.8V293.5M210.7 234.8V293.5M230.5 234.8V293.5M250.3 234.8V293.5" stroke="#ededed" stroke-width="0.8" fill="none"/>
<g clip-path="url(#c9)" fill="none" stroke-width="1.0" stroke-linejoin="round" stroke-opacity="0.8">
<polyline points="159.2,263.5 167.1,262.6 175,261.1 183,259.9 190.9,258.7 198.8,257.9 206.7,257 214.6,256.4 222.5,255.8 230.5,255.2 238.4,256.1 246.3,257.3" stroke="#440154"/>
<polyline points="159.2,263.5 167.1,263.5 175,262.9 183,262.3 190.9,261.4 198.8,260.8 206.7,260.2 214.6,259.6 222.5,259.3 230.5,259 238.4,259.6 246.3,260.8" stroke="#450c5e"/>
<polyline points="159.2,263.5 167.1,263 175,261.8 183,259.8 190.9,258 198.8,255.9 206.7,254.1 214.6,252.5 222.5,251.3 230.5,250.2 238.4,250 246.3,250.5" stroke="#461769"/>
<polyline points="159.2,263.5 167.1,262.4 175,260.6 183,258 190.9,255.6 198.8,253 206.7,250.8 214.6,248.9 222.5,247.6 230.5,246.6 238.4,246.6 246.3,247.3" stroke="#482273"/>
<polyline points="159.2,263.5 167.1,260.8 175,257.9 183,254.6 190.9,251.6 198.8,248.1 206.7,245.7 214.6,243 222.5,241.2 230.5,239.4 238.4,238.3 246.3,237.7" stroke="#462c7a"/>
<polyline points="159.2,263.5 167.1,262.4 175,260.7 183,258.4 190.9,256.4 198.8,254.3 206.7,252.5 214.6,250.9 222.5,249.7 230.5,248.3 238.4,247.7 246.3,247.6" stroke="#44367f"/>
<polyline points="159.2,263.5 167.1,262.5 175,260.8 183,258.4 190.9,256 198.8,253.3 206.7,250.9 214.6,248.6 222.5,246.8 230.5,245.1 238.4,244.1 246.3,243.7" stroke="#424085"/>
<polyline points="159.2,263.5 167.1,262.5 175,260.8 183,258.2 190.9,255.8 198.8,252.9 206.7,250.4 214.6,248 222.5,246.2 230.5,244.6 238.4,243.8 246.3,243.7" stroke="#3f4988"/>
<polyline points="159.2,263.5 167.1,262.4 175,260.6 183,258 190.9,255.5 198.8,252.6 206.7,250 214.6,247.5 222.5,245.6 230.5,243.6 238.4,242.4 246.3,241.9" stroke="#3b528a"/>
<polyline points="159.2,263.5 167.1,261.8 175,259.6 183,256.9 190.9,254.5 198.8,252 206.7,250 214.6,247.9 222.5,246.2 230.5,244.4 238.4,242.9 246.3,242" stroke="#375a8c"/>
<polyline points="159.2,263.5 167.1,262.5 175,261 183,258.7 190.9,256.7 198.8,254.4 206.7,252.5 214.6,250.7 222.5,249.2 230.5,247.7 238.4,246.9 246.3,246.7" stroke="#34628d"/>
<polyline points="159.2,263.5 167.1,262.6 175,261.7 183,261.7 190.9,261.1 198.8,260.5 206.7,261.1 214.6,261.7 222.5,263.5 230.5,265.6 238.4,268.3 246.3,270.6" stroke="#306a8d"/>
<polyline points="159.2,263.5 167.1,262.7 175,261.4 183,259.4 190.9,257.7 198.8,255.8 206.7,254.4 214.6,253 222.5,252.1 230.5,251.1 238.4,250.9 246.3,251.3" stroke="#2d728e"/>
<polyline points="159.2,263.5 167.1,262.8 175,261.5 183,259.8 190.9,258.4 198.8,257 206.7,255.9 214.6,254.9 222.5,254 230.5,252.8 238.4,252.2 246.3,252.1" stroke="#297a8e"/>
<polyline points="159.2,263.5 167.1,261.8 175,259.5 183,256.6 190.9,254.2 198.8,251.6 206.7,249.6 214.6,247.8 222.5,246.6 230.5,245.5 238.4,245.2 246.3,245.5" stroke="#27818d"/>
<polyline points="159.2,263.5 167.1,262.1 175,260 183,257.3 190.9,255 198.8,252.4 206.7,250.3 214.6,248.5 222.5,247.3 230.5,246.1 238.4,245.8 246.3,246.1" stroke="#24898d"/>
<polyline points="159.2,263.5 167.1,262 175,260 183,257.3 190.9,254.8 198.8,252.3 206.7,250.2 214.6,248.5 222.5,247.4 230.5,246.5 238.4,246.5 246.3,247.3" stroke="#21918c"/>
<polyline points="159.2,263.5 167.1,262.3 175,260.4 183,258.1 190.9,256 198.8,253.9 206.7,252.2 214.6,250.7 222.5,249.7 230.5,248.7 238.4,248.5 246.3,248.9" stroke="#21988a"/>
<polyline points="159.2,263.5 167.1,262.6 175,261.7 183,260.8 190.9,260.2 198.8,259.6 206.7,260.2 214.6,261.1 222.5,262.9 230.5,265.3 238.4,268.3 246.3,271.2" stroke="#229f87"/>
<polyline points="159.2,263.5 167.1,265.3 175,266.5 183,266.5 190.9,266.8 198.8,267.1 206.7,267.4 214.6,267.7 222.5,267.4 230.5,267.1 238.4,265.6 246.3,266.2" stroke="#22a784"/>
<polyline points="159.2,263.5 167.1,262.8 175,261.6 183,259.9 190.9,258.5 198.8,257.2 206.7,256.1 214.6,255.1 222.5,254.2 230.5,253 238.4,252.5 246.3,252.4" stroke="#2aae7f"/>
<polyline points="159.2,263.5 167.1,261.9 175,259.8 183,257 190.9,254.7 198.8,252.2 206.7,250.2 214.6,248.5 222.5,247.2 230.5,246 238.4,245.5 246.3,245.7" stroke="#35b579"/>
<polyline points="159.2,263.5 167.1,262.7 175,261.1 183,258.9 190.9,256.8 198.8,254.4 206.7,252.4 214.6,250.5 222.5,249 230.5,247.6 238.4,247 246.3,247" stroke="#40bc72"/>
<polyline points="159.2,263.5 167.1,261.9 175,259.7 183,256.9 190.9,254.6 198.8,252.2 206.7,250.4 214.6,248.7 222.5,247.6 230.5,246.4 238.4,245.9 246.3,246.1" stroke="#4ec26a"/>
<polyline points="159.2,263.5 167.1,262 175,259.8 183,257 190.9,254.4 198.8,251.5 206.7,249.2 214.6,247 222.5,245.5 230.5,244 238.4,243.4 246.3,243.4" stroke="#5fc860"/>
<polyline points="159.2,263.5 167.1,262.6 175,261 183,258.6 190.9,256.4 198.8,253.9 206.7,251.8 214.6,249.7 222.5,248.2 230.5,246.7 238.4,246.1 246.3,246" stroke="#70ce57"/>
<polyline points="159.2,263.5 167.1,262.5 175,261 183,258.8 190.9,256.9 198.8,254.8 206.7,253.1 214.6,251.4 222.5,250.2 230.5,248.8 238.4,248.2 246.3,248.1" stroke="#82d34c"/>
<polyline points="159.2,263.5 167.1,262.5 175,260.8 183,258.3 190.9,255.9 198.8,253.2 206.7,250.9 214.6,248.8 222.5,247.4 230.5,246.2 238.4,245.9 246.3,246.3" stroke="#97d73e"/>
<polyline points="159.2,263.5 167.1,262.5 175,260.8 183,258.5 190.9,256.3 198.8,253.8 206.7,251.7 214.6,249.6 222.5,248 230.5,246.5 238.4,245.6 246.3,245.4" stroke="#acdc31"/>
<polyline points="159.2,263.5 167.1,262 175,260 183,257.3 190.9,255 198.8,252.5 206.7,250.4 214.6,248.5 222.5,247.1 230.5,245.7 238.4,245 246.3,245" stroke="#c1e026"/>
<polyline points="159.2,263.5 167.1,262.6 175,263.8 183,290.8 190.9,289.3 198.8,282.8 206.7,280.7 214.6,278.4 222.5,276.6 230.5,274.8 238.4,268.5 246.3,267.1" stroke="#d5e226"/>
<polyline points="159.2,263.5 167.1,261.8 175,259.5 183,256.5 190.9,253.6 198.8,250.4 206.7,247.8 214.6,245.4 222.5,243.8 230.5,242.5 238.4,242 246.3,242.3" stroke="#e9e425"/>
<polyline points="159.2,263.5 167.1,261.9 175,259.6 183,256.8 190.9,254.2" stroke="#fde725"/>
</g>
<rect x="154.8" y="234.8" width="95.8" height="58.7" fill="none" stroke="#8a8a8a" stroke-width="1.1"/>
<rect x="154.8" y="210.8" width="95.8" height="24" fill="#dadada" stroke="#909090" stroke-width="1.1"/>
<path d="M154.3 234.5H251.1" stroke="#6a6a6a" stroke-width="1.7"/>
<path d="M152.2 293.2H154.8M152.2 278.4H154.8M152.2 263.5H154.8M152.2 248.7H154.8" stroke="#333" stroke-width="0.9"/>
<clipPath id="c10"><rect x="273.6" y="234.8" width="95.8" height="58.7"/></clipPath>
<path d="M273.6 282.1H369.4M273.6 265.4H369.4M273.6 248.8H369.4M279.9 234.8V293.5M299.7 234.8V293.5M319.5 234.8V293.5M339.3 234.8V293.5M359.1 234.8V293.5" stroke="#f5f5f5" stroke-width="0.5" fill="none"/>
<path d="M273.6 290.4H369.4M273.6 273.8H369.4M273.6 257.1H369.4M273.6 240.5H369.4M289.8 234.8V293.5M309.6 234.8V293.5M329.4 234.8V293.5M349.2 234.8V293.5M369 234.8V293.5" stroke="#ededed" stroke-width="0.8" fill="none"/>
<g clip-path="url(#c10)" fill="none" stroke-width="1.0" stroke-linejoin="round" stroke-opacity="0.8">
<polyline points="277.9,257.1 285.8,251.7 293.7,250.1 301.7,248.7 309.6,248.3 317.5,250.1 325.4,252.8 333.3,253.3 341.2,247.2 349.2,241 357.1,238.2 365,236.9" stroke="#440154"/>
<polyline points="277.9,257.1 285.8,251.9 293.7,250.4 301.7,249.2 309.6,248.8 317.5,250.5 325.4,253.1 333.3,253.5 341.2,247.2 349.2,240.9 357.1,237.9 365,236.5" stroke="#450c5e"/>
<polyline points="277.9,257.1 285.8,251.7 293.7,249.8 301.7,248.5 309.6,248.4 317.5,250.9 325.4,253.9 333.3,255 341.2,249.4 349.2,243.6 357.1,241 365,240.8" stroke="#461769"/>
<polyline points="277.9,257.1 285.8,252.1 293.7,250.6 301.7,249.4 309.6,249.2 317.5,251.1 325.4,253.7 333.3,254.4 341.2,248.4 349.2,242.4 357.1,239.9 365,239.5" stroke="#482273"/>
<polyline points="277.9,257.1 285.8,251.7 293.7,249.9 301.7,248.7 309.6,248.6 317.5,251.1 325.4,254.1 333.3,255.2 341.2,249.5 349.2,243.7 357.1,241.1 365,240.7" stroke="#462c7a"/>
<polyline points="277.9,257.1 285.8,251.9 293.7,250.2 301.7,249 309.6,248.9 317.5,251.3 325.4,254.1 333.3,255.1 341.2,249.2 349.2,243.3 357.1,240.5 365,240.1" stroke="#44367f"/>
<polyline points="277.9,257.1 285.8,252.1 293.7,250.5 301.7,249.2 309.6,249 317.5,251.1 325.4,253.6 333.3,254.4 341.2,248.6 349.2,242.9 357.1,240.6 365,240.8" stroke="#424085"/>
<polyline points="277.9,257.1 285.8,252.2 293.7,250.7 301.7,249.4 309.6,249.1 317.5,251.3 325.4,253.7 333.3,254.6 341.2,248.8 349.2,243.5 357.1,241.6 365,242.7" stroke="#3f4988"/>
<polyline points="277.9,257.1 285.8,252 293.7,250.5 301.7,249.5 309.6,249.7 317.5,252.2 325.4,255.3 333.3,256.3 341.2,250.5 349.2,244.5 357.1,241.6 365,241" stroke="#3b528a"/>
<polyline points="277.9,257.1 285.8,251.7 293.7,249.8 301.7,248.4 309.6,248.1 317.5,250.2 325.4,253 333.3,253.9 341.2,248.2 349.2,242.6 357.1,240.2 365,240.2" stroke="#375a8c"/>
<polyline points="277.9,257.1 285.8,252.4 293.7,250.8 301.7,249.6 309.6,249.5 317.5,251.9 325.4,254.1 333.3,255.1 341.2,249.4 349.2,244.2 357.1,242.2 365,244" stroke="#34628d"/>
<polyline points="277.9,257.1 285.8,252.2 293.7,250.7 301.7,249.7 309.6,249.8 317.5,252.4 325.4,255.2 333.3,256.2 341.2,250.2 349.2,244.3 357.1,241.4 365,241.4" stroke="#306a8d"/>
<polyline points="277.9,257.1 285.8,252.7 293.7,251.4 301.7,250.5 309.6,250.5 317.5,253 325.4,255.4 333.3,256.2 341.2,250.2 349.2,244.5 357.1,242 365,242.9" stroke="#2d728e"/>
<polyline points="277.9,257.1 285.8,252.6 293.7,251.5 301.7,250.6 309.6,250.5 317.5,252.7 325.4,255.1 333.3,255.8 341.2,249.8 349.2,244.2 357.1,241.8 365,242.3" stroke="#297a8e"/>
<polyline points="277.9,257.1 285.8,253 293.7,251.7 301.7,250.9 309.6,251 317.5,253.7 325.4,255.9 333.3,257 341.2,251.2 349.2,246.1 357.1,244.1 365,246.3" stroke="#27818d"/>
<polyline points="277.9,257.1 285.8,252.7 293.7,251.2 301.7,250.3 309.6,250.5 317.5,253.3 325.4,255.8 333.3,257.1 341.2,251.4 349.2,246.3 357.1,244.2 365,246.1" stroke="#24898d"/>
<polyline points="277.9,257.1 285.8,252.1 293.7,250.3 301.7,249.1 309.6,249.1 317.5,251.7 325.4,254.4 333.3,255.7 341.2,250.1 349.2,244.9 357.1,242.8 365,244" stroke="#21918c"/>
<polyline points="277.9,257.1 285.8,252.5 293.7,250.9 301.7,250.1 309.6,250.3 317.5,253.1 325.4,255.7 333.3,257 341.2,251.3 349.2,245.9 357.1,243.4 365,244.8" stroke="#21988a"/>
<polyline points="277.9,257.1 285.8,253.4 293.7,252.6 301.7,252.1 309.6,252.3 317.5,254.9 325.4,257.1 333.3,258 341.2,252 349.2,246.6 357.1,244.4 365,246.2" stroke="#229f87"/>
<polyline points="277.9,257.1 285.8,253.4 293.7,252.3 301.7,251.7 309.6,252 317.5,254.9 325.4,257.1 333.3,258.3 341.2,252.7 349.2,247.7 357.1,245.9 365,248.6" stroke="#22a784"/>
<polyline points="277.9,257.1 285.8,252.9 293.7,251.6 301.7,250.9 309.6,251.3 317.5,254.3 325.4,256.8 333.3,258.1 341.2,252.2 349.2,246.8 357.1,244.2 365,245.9" stroke="#2aae7f"/>
<polyline points="277.9,257.1 285.8,252.5 293.7,250.8 301.7,249.8 309.6,250 317.5,252.9 325.4,255.5 333.3,256.9 341.2,251.4 349.2,246.4 357.1,244.3 365,246.4" stroke="#35b579"/>
<polyline points="277.9,257.1 285.8,252.6 293.7,250.9 301.7,250.1 309.6,250.4 317.5,253.6 325.4,256.2 333.3,257.7 341.2,252.1 349.2,247 357.1,244.8 365,246.9" stroke="#40bc72"/>
<polyline points="277.9,257.1 285.8,251.9 293.7,249.9 301.7,248.6 309.6,248.6 317.5,251.3 325.4,254.1 333.3,255.5 341.2,250 349.2,244.7 357.1,242.5 365,243.6" stroke="#4ec26a"/>
<polyline points="277.9,257.1 285.8,252.2 293.7,250.4 301.7,249.3 309.6,249.5 317.5,252.4 325.4,255.2 333.3,256.7 341.2,251.3 349.2,246.1 357.1,243.9 365,245.3" stroke="#5fc860"/>
<polyline points="277.9,257.1 285.8,253.1 293.7,252 301.7,251.5 309.6,251.9 317.5,254.9 325.4,257.5 333.3,258.7 341.2,252.9 349.2,247.5 357.1,245.2 365,246.7" stroke="#70ce57"/>
<polyline points="277.9,257.1 285.8,253.1 293.7,252 301.7,251.4 309.6,251.6 317.5,254.1 325.4,256.4 333.3,257.2 341.2,251.2 349.2,245.7 357.1,243.3 365,244.7" stroke="#82d34c"/>
<polyline points="277.9,257.1 285.8,252.7 293.7,251.6 301.7,250.8 309.6,251 317.5,253.5 325.4,256 333.3,256.9 341.2,250.9 349.2,245.2 357.1,242.6 365,243.2" stroke="#97d73e"/>
<polyline points="277.9,257.1 285.8,252.6 293.7,251.3 301.7,250.3 309.6,250.2 317.5,252.5 325.4,254.8 333.3,255.6 341.2,249.6 349.2,244 357.1,241.7 365,242.5" stroke="#acdc31"/>
<polyline points="277.9,257.1 285.8,252.3 293.7,250.7 301.7,249.7 309.6,249.9 317.5,252.7 325.4,255.5 333.3,256.8 341.2,251.2 349.2,246 357.1,243.7 365,245.1" stroke="#c1e026"/>
<polyline points="277.9,257.1 285.8,252.8 293.7,255.1 301.7,290.4 309.6,286.4 317.5,282.4 325.4,281.1 333.3,279.1 341.2,276.4 349.2,269.8 357.1,267.4 365,269.1" stroke="#d5e226"/>
<polyline points="277.9,257.1 285.8,252.6 293.7,251.1 301.7,250.3 309.6,250.4 317.5,253 325.4,255.6 333.3,256.7 341.2,250.9 349.2,245.4 357.1,243 365,244.2" stroke="#e9e425"/>
<polyline points="277.9,257.1 285.8,252.6 293.7,251.5 301.7,250.6 309.6,250.7" stroke="#fde725"/>
</g>
<rect x="273.6" y="234.8" width="95.8" height="58.7" fill="none" stroke="#8a8a8a" stroke-width="1.1"/>
<rect x="273.6" y="210.8" width="95.8" height="24" fill="#dadada" stroke="#909090" stroke-width="1.1"/>
<path d="M273.1 234.5H369.9" stroke="#6a6a6a" stroke-width="1.7"/>
<path d="M270.9 290.4H273.6M270.9 273.8H273.6M270.9 257.1H273.6M270.9 240.5H273.6M289.8 293.5V296.1M309.6 293.5V296.1M329.4 293.5V296.1M349.2 293.5V296.1M369 293.5V296.1" stroke="#333" stroke-width="0.9"/>
<clipPath id="c11"><rect x="392.5" y="234.8" width="95.8" height="58.7"/></clipPath>
<path d="M392.5 286H488.3M392.5 271.1H488.3M392.5 256.1H488.3M392.5 241.2H488.3M398.8 234.8V293.5M418.6 234.8V293.5M438.4 234.8V293.5M458.2 234.8V293.5M478 234.8V293.5" stroke="#f5f5f5" stroke-width="0.5" fill="none"/>
<path d="M392.5 293.5H488.3M392.5 278.6H488.3M392.5 263.6H488.3M392.5 248.7H488.3M408.7 234.8V293.5M428.5 234.8V293.5M448.3 234.8V293.5M468.1 234.8V293.5M487.9 234.8V293.5" stroke="#ededed" stroke-width="0.8" fill="none"/>
<g clip-path="url(#c11)" fill="none" stroke-width="1.0" stroke-linejoin="round" stroke-opacity="0.8">
<polyline points="396.9,256.1 404.8,255.4 412.7,253.9 420.6,252.3 428.5,251 436.4,248.7 444.4,247 452.3,246.9 460.2,248.5 468.1,250.2 476,251 483.9,250.9" stroke="#440154"/>
<polyline points="396.9,256.1 404.8,255 412.7,253.1 420.6,251.3 428.5,250 436.4,247.7 444.4,246.1 452.3,246.2 460.2,247.9 468.1,249.7 476,250.6 483.9,250.5" stroke="#450c5e"/>
<polyline points="396.9,256.1 404.8,255.1 412.7,253.5 420.6,251.9 428.5,250.6 436.4,248.4 444.4,246.8 452.3,246.9 460.2,248.7 468.1,250.6 476,251.4 483.9,251.6" stroke="#461769"/>
<polyline points="396.9,256.1 404.8,255.4 412.7,254 420.6,252.5 428.5,251.2 436.4,248.9 444.4,247 452.3,246.9 460.2,248.6 468.1,250.4 476,251.3 483.9,251.6" stroke="#482273"/>
<polyline points="396.9,256.1 404.8,255.3 412.7,253.9 420.6,252.3 428.5,251 436.4,248.8 444.4,247 452.3,246.9 460.2,248.6 468.1,250.4 476,251.2 483.9,251.4" stroke="#462c7a"/>
<polyline points="396.9,256.1 404.8,255.2 412.7,253.7 420.6,252 428.5,250.6 436.4,248.3 444.4,246.5 452.3,246.5 460.2,248.2 468.1,250.1 476,251.1 483.9,251.4" stroke="#44367f"/>
<polyline points="396.9,256.1 404.8,255.3 412.7,254 420.6,252.5 428.5,251.3 436.4,249.3 444.4,247.6 452.3,247.7 460.2,249.5 468.1,251.3 476,252.1 483.9,252.3" stroke="#424085"/>
<polyline points="396.9,256.1 404.8,255.2 412.7,253.6 420.6,252 428.5,250.7 436.4,248.5 444.4,246.9 452.3,246.9 460.2,248.6 468.1,250.5 476,251.3 483.9,251.3" stroke="#3f4988"/>
<polyline points="396.9,256.1 404.8,255.5 412.7,254.3 420.6,252.9 428.5,251.6 436.4,249.4 444.4,247.5 452.3,247.3 460.2,249 468.1,250.9 476,251.7 483.9,252.1" stroke="#3b528a"/>
<polyline points="396.9,256.1 404.8,255.2 412.7,253.8 420.6,252.3 428.5,251 436.4,248.8 444.4,247.1 452.3,247.2 460.2,249 468.1,251 476,251.9 483.9,252.3" stroke="#375a8c"/>
<polyline points="396.9,256.1 404.8,255.3 412.7,254 420.6,252.5 428.5,251.1 436.4,248.9 444.4,247.1 452.3,247 460.2,248.8 468.1,250.8 476,251.7 483.9,252.2" stroke="#34628d"/>
<polyline points="396.9,256.1 404.8,255.4 412.7,254.2 420.6,252.8 428.5,251.4 436.4,249.2 444.4,247.3 452.3,247.3 460.2,249.1 468.1,251.1 476,252.1 483.9,252.7" stroke="#306a8d"/>
<polyline points="396.9,256.1 404.8,255.5 412.7,254.4 420.6,253.1 428.5,251.9 436.4,249.8 444.4,248.1 452.3,248 460.2,249.9 468.1,251.8 476,252.5 483.9,253.1" stroke="#2d728e"/>
<polyline points="396.9,256.1 404.8,255.4 412.7,254.6 420.6,253.3 428.5,252.1 436.4,250.2 444.4,248.4 452.3,248.4 460.2,250.4 468.1,252.5 476,253.3 483.9,254.2" stroke="#297a8e"/>
<polyline points="396.9,256.1 404.8,255.5 412.7,254.6 420.6,253.3 428.5,252.1 436.4,250.1 444.4,248.3 452.3,248.3 460.2,250.2 468.1,252.3 476,253.3 483.9,254.2" stroke="#27818d"/>
<polyline points="396.9,256.1 404.8,255.5 412.7,254.6 420.6,253.2 428.5,252 436.4,249.9 444.4,248 452.3,247.9 460.2,249.9 468.1,252 476,253 483.9,253.9" stroke="#24898d"/>
<polyline points="396.9,256.1 404.8,255.4 412.7,254.4 420.6,253.1 428.5,251.7 436.4,249.6 444.4,247.7 452.3,247.6 460.2,249.7 468.1,251.8 476,252.9 483.9,254.1" stroke="#21918c"/>
<polyline points="396.9,256.1 404.8,255.3 412.7,254.5 420.6,253.2 428.5,251.9 436.4,250 444.4,248.2 452.3,248.3 460.2,250.5 468.1,252.7 476,253.7 483.9,254.9" stroke="#21988a"/>
<polyline points="396.9,256.1 404.8,255.5 412.7,254.7 420.6,253.5 428.5,252.3 436.4,250.5 444.4,248.8 452.3,248.8 460.2,251 468.1,253.1 476,254 483.9,255.2" stroke="#229f87"/>
<polyline points="396.9,256.1 404.8,255.5 412.7,254.8 420.6,253.5 428.5,252.3 436.4,250.3 444.4,248.4 452.3,248.4 460.2,250.4 468.1,252.6 476,253.6 483.9,254.8" stroke="#22a784"/>
<polyline points="396.9,256.1 404.8,255.5 412.7,254.9 420.6,253.8 428.5,252.6 436.4,250.8 444.4,249.1 452.3,249.1 460.2,251.3 468.1,253.4 476,254.3 483.9,255.5" stroke="#2aae7f"/>
<polyline points="396.9,256.1 404.8,255.5 412.7,255 420.6,253.9 428.5,252.8 436.4,251.1 444.4,249.4 452.3,249.4 460.2,251.6 468.1,253.8 476,254.5 483.9,255.7" stroke="#35b579"/>
<polyline points="396.9,256.1 404.8,255.4 412.7,254.8 420.6,253.6 428.5,252.4 436.4,250.6 444.4,248.8 452.3,248.9 460.2,251 468.1,253.1 476,253.8 483.9,255" stroke="#40bc72"/>
<polyline points="396.9,256.1 404.8,255.5 412.7,254.5 420.6,253.2 428.5,252 436.4,250 444.4,248.2 452.3,248.2 460.2,250.1 468.1,252.1 476,252.9 483.9,253.7" stroke="#4ec26a"/>
<polyline points="396.9,256.1 404.8,255.5 412.7,254.7 420.6,253.4 428.5,252.3 436.4,250.4 444.4,248.6 452.3,248.7 460.2,250.6 468.1,252.7 476,253.5 483.9,254.3" stroke="#5fc860"/>
<polyline points="396.9,256.1 404.8,255.3 412.7,254.1 420.6,252.7 428.5,251.5 436.4,249.6 444.4,248 452.3,248.1 460.2,250.1 468.1,252.1 476,252.9 483.9,253.5" stroke="#70ce57"/>
<polyline points="396.9,256.1 404.8,255.3 412.7,254.1 420.6,252.6 428.5,251.3 436.4,249.2 444.4,247.5 452.3,247.5 460.2,249.4 468.1,251.4 476,252.4 483.9,253" stroke="#82d34c"/>
<polyline points="396.9,256.1 404.8,255.3 412.7,254.1 420.6,252.7 428.5,251.5 436.4,249.5 444.4,247.8 452.3,247.9 460.2,249.8 468.1,251.7 476,252.5 483.9,252.9" stroke="#97d73e"/>
<polyline points="396.9,256.1 404.8,255.4 412.7,254.2 420.6,252.8 428.5,251.5 436.4,249.4 444.4,247.7 452.3,247.7 460.2,249.6 468.1,251.6 476,252.5 483.9,253.1" stroke="#acdc31"/>
<polyline points="396.9,256.1 404.8,255.2 412.7,253.9 420.6,252.3 428.5,251 436.4,248.8 444.4,247.1 452.3,247.1 460.2,248.9 468.1,250.8 476,251.7 483.9,252.1" stroke="#c1e026"/>
<polyline points="396.9,256.1 404.8,255.4 412.7,257.2 420.6,291 428.5,283.9 436.4,272.3 444.4,269.7 452.3,269.4 460.2,269.1 468.1,268.8 476,270.3 483.9,273.2" stroke="#d5e226"/>
<polyline points="396.9,256.1 404.8,254.5 412.7,250.9 420.6,247.5 428.5,243.8 436.4,240.2 444.4,237.6 452.3,237.2 460.2,239.4 468.1,239.4 476,239.4 483.9,239.4" stroke="#e9e425"/>
<polyline points="396.9,256.1 404.8,255.4 412.7,254.2 420.6,252.8 428.5,251.6" stroke="#fde725"/>
</g>
<rect x="392.5" y="234.8" width="95.8" height="58.7" fill="none" stroke="#8a8a8a" stroke-width="1.1"/>
<rect x="392.5" y="210.8" width="95.8" height="24" fill="#dadada" stroke="#909090" stroke-width="1.1"/>
<path d="M392 234.5H488.8" stroke="#6a6a6a" stroke-width="1.7"/>
<path d="M389.9 293.5H392.5M389.9 278.6H392.5M389.9 263.6H392.5M389.9 248.7H392.5M408.7 293.5V296.1M428.5 293.5V296.1M448.3 293.5V296.1M468.1 293.5V296.1M487.9 293.5V296.1" stroke="#333" stroke-width="0.9"/>
<clipPath id="c12"><rect x="35.8" y="323" width="95.8" height="58.7"/></clipPath>
<path d="M35.8 364.3H131.6M35.8 346.2H131.6M35.8 328.1H131.6M42.1 323V381.7M61.9 323V381.7M81.7 323V381.7M101.5 323V381.7M121.3 323V381.7" stroke="#f5f5f5" stroke-width="0.5" fill="none"/>
<path d="M35.8 373.4H131.6M35.8 355.3H131.6M35.8 337.2H131.6M52 323V381.7M71.8 323V381.7M91.6 323V381.7M111.4 323V381.7M131.2 323V381.7" stroke="#ededed" stroke-width="0.8" fill="none"/>
<g clip-path="url(#c12)" fill="none" stroke-width="1.0" stroke-linejoin="round" stroke-opacity="0.8">
<polyline points="40.2,337.2 48.1,336.3 56,335.4 63.9,334.6 71.8,333.9 79.7,333 87.7,333 95.6,333.8 103.5,335.2 111.4,335.6 119.3,336.1 127.2,336.8" stroke="#440154"/>
<polyline points="40.2,337.2 48.1,336.7 56,336.1 63.9,335.5 71.8,334.9 79.7,334.3 87.7,334.3 95.6,335 103.5,336.3 111.4,336.6 119.3,337 127.2,337.5" stroke="#450c5e"/>
<polyline points="40.2,337.2 48.1,336.7 56,336.1 63.9,335.5 71.8,335 79.7,334.3 87.7,334.2 95.6,335 103.5,336.2 111.4,336.2 119.3,336.3 127.2,336.5" stroke="#461769"/>
<polyline points="40.2,337.2 48.1,335.7 56,334.3 63.9,333.1 71.8,332 79.7,330.9 87.7,330.5 95.6,331.3 103.5,332.6 111.4,332.6 119.3,332.7 127.2,332.8" stroke="#482273"/>
<polyline points="40.2,337.2 48.1,335.6 56,334.2 63.9,333 71.8,332.1 79.7,331 87.7,330.6 95.6,331.4 103.5,332.4 111.4,332 119.3,331.4 127.2,330.7" stroke="#462c7a"/>
<polyline points="40.2,337.2 48.1,336 56,334.9 63.9,333.8 71.8,332.9 79.7,331.6 87.7,331 95.6,331.7 103.5,333 111.4,333 119.3,333.2 127.2,333.5" stroke="#44367f"/>
<polyline points="40.2,337.2 48.1,335.6 56,334.1 63.9,332.8 71.8,331.8 79.7,330.5 87.7,330.1 95.6,331 103.5,332.4 111.4,332.5 119.3,332.6 127.2,332.8" stroke="#424085"/>
<polyline points="40.2,337.2 48.1,335.6 56,334.3 63.9,333.2 71.8,332.4 79.7,331.3 87.7,330.8 95.6,331.7 103.5,332.7 111.4,332.2 119.3,331.4 127.2,330.6" stroke="#3f4988"/>
<polyline points="40.2,337.2 48.1,335.6 56,334.1 63.9,333 71.8,332.1 79.7,331.1 87.7,330.8 95.6,331.7 103.5,332.9 111.4,332.6 119.3,332.1 127.2,331.5" stroke="#3b528a"/>
<polyline points="40.2,337.2 48.1,335.5 56,334 63.9,332.6 71.8,331.5 79.7,330.1 87.7,329.5 95.6,330.3 103.5,331.6 111.4,331.6 119.3,331.6 127.2,331.6" stroke="#375a8c"/>
<polyline points="40.2,337.2 48.1,336 56,334.9 63.9,333.8 71.8,332.8 79.7,331.5 87.7,331 95.6,331.5 103.5,332.6 111.4,332.6 119.3,332.7 127.2,332.9" stroke="#34628d"/>
<polyline points="40.2,337.2 48.1,336.8 56,336.3 63.9,335.7 71.8,335.1 79.7,334.5 87.7,334.5 95.6,335.2 103.5,336.5 111.4,337 119.3,337.6 127.2,338.3" stroke="#306a8d"/>
<polyline points="40.2,337.2 48.1,336.9 56,336.5 63.9,335.9 71.8,335.3 79.7,334.4 87.7,334.2 95.6,334.7 103.5,335.9 111.4,336.1 119.3,336.4 127.2,337" stroke="#2d728e"/>
<polyline points="40.2,337.2 48.1,336.6 56,335.8 63.9,335.2 71.8,334.6 79.7,333.9 87.7,333.9 95.6,334.7 103.5,336 111.4,336.1 119.3,336.3 127.2,336.7" stroke="#297a8e"/>
<polyline points="40.2,337.2 48.1,336.1 56,335 63.9,334.1 71.8,333.4 79.7,332.5 87.7,332.4 95.6,333.2 103.5,334.4 111.4,334.3 119.3,334.1 127.2,334" stroke="#27818d"/>
<polyline points="40.2,337.2 48.1,336.4 56,335.7 63.9,334.9 71.8,334.1 79.7,332.9 87.7,332.3 95.6,332.9 103.5,334 111.4,334 119.3,334 127.2,334.2" stroke="#24898d"/>
<polyline points="40.2,337.2 48.1,335.6 56,334.2 63.9,333.1 71.8,332.2 79.7,331.2 87.7,331.1 95.6,332 103.5,333.4 111.4,333.4 119.3,333.3 127.2,333.3" stroke="#21918c"/>
<polyline points="40.2,337.2 48.1,336.7 56,336 63.9,335.2 71.8,334.4 79.7,333.3 87.7,332.9 95.6,333.3 103.5,334.5 111.4,334.8 119.3,335.4 127.2,336.1" stroke="#21988a"/>
<polyline points="40.2,337.2 48.1,336.4 56,335.6 63.9,334.8 71.8,334.2 79.7,333.6 87.7,333.7 95.6,334.5 103.5,335.9 111.4,336.3 119.3,336.7 127.2,337.3" stroke="#229f87"/>
<polyline points="40.2,337.2 48.1,337.3 56,337.2 63.9,336.8 71.8,336.3 79.7,335.6 87.7,335.6 95.6,336 103.5,337.3 111.4,337.8 119.3,338.6 127.2,339.7" stroke="#22a784"/>
<polyline points="40.2,337.2 48.1,336.6 56,335.8 63.9,335.1 71.8,334.4 79.7,333.3 87.7,333 95.6,333.5 103.5,334.6 111.4,334.6 119.3,334.7 127.2,334.9" stroke="#2aae7f"/>
<polyline points="40.2,337.2 48.1,336.3 56,335.4 63.9,334.7 71.8,334.2 79.7,333.5 87.7,333.5 95.6,334.4 103.5,335.6 111.4,335.5 119.3,335.4 127.2,335.2" stroke="#35b579"/>
<polyline points="40.2,337.2 48.1,336.1 56,335 63.9,333.9 71.8,332.9 79.7,331.6 87.7,331.1 95.6,331.8 103.5,333.1 111.4,333.4 119.3,333.9 127.2,334.6" stroke="#40bc72"/>
<polyline points="40.2,337.2 48.1,335.8 56,334.6 63.9,333.5 71.8,332.7 79.7,331.7 87.7,331.6 95.6,332.4 103.5,333.7 111.4,333.7 119.3,333.7 127.2,333.7" stroke="#4ec26a"/>
<polyline points="40.2,337.2 48.1,336 56,334.8 63.9,333.6 71.8,332.5 79.7,331 87.7,330.3 95.6,330.8 103.5,332 111.4,332.1 119.3,332.5 127.2,333" stroke="#5fc860"/>
<polyline points="40.2,337.2 48.1,336 56,334.8 63.9,333.9 71.8,333.3 79.7,332.4 87.7,332.3 95.6,333.2 103.5,334.3 111.4,334.1 119.3,333.7 127.2,333.3" stroke="#70ce57"/>
<polyline points="40.2,337.2 48.1,336.4 56,335.4 63.9,334.5 71.8,333.5 79.7,332.4 87.7,332 95.6,332.6 103.5,334 111.4,334.5 119.3,335.4 127.2,336.4" stroke="#82d34c"/>
<polyline points="40.2,337.2 48.1,336.2 56,335.2 63.9,334.1 71.8,333.1 79.7,331.8 87.7,331.1 95.6,331.6 103.5,332.7 111.4,332.7 119.3,332.9 127.2,333.2" stroke="#97d73e"/>
<polyline points="40.2,337.2 48.1,336.3 56,335.4 63.9,334.6 71.8,333.9 79.7,333 87.7,332.8 95.6,333.6 103.5,334.9 111.4,334.9 119.3,335 127.2,335.1" stroke="#acdc31"/>
<polyline points="40.2,337.2 48.1,335.9 56,334.6 63.9,333.6 71.8,332.7 79.7,331.7 87.7,331.6 95.6,332.5 103.5,333.9 111.4,334.1 119.3,334.4 127.2,334.7" stroke="#c1e026"/>
<polyline points="40.2,337.2 48.1,336.8 56,338.3 63.9,378.6 71.8,367.1 79.7,358.6 87.7,354 95.6,353.5 103.5,353.9 111.4,352.6 119.3,353.5 127.2,355.3" stroke="#d5e226"/>
<polyline points="40.2,337.2 48.1,335.8 56,334.3 63.9,332.5 71.8,330.7 79.7,327.2 87.7,325.6 95.6,325.4 103.5,327.1 111.4,325.8 119.3,325.4 127.2,325.3" stroke="#e9e425"/>
<polyline points="40.2,337.2 48.1,335.7 56,334.4 63.9,333.1 71.8,331.8" stroke="#fde725"/>
</g>
<rect x="35.8" y="323" width="95.8" height="58.7" fill="none" stroke="#8a8a8a" stroke-width="1.1"/>
<rect x="35.8" y="299" width="95.8" height="24" fill="#dadada" stroke="#909090" stroke-width="1.1"/>
<path d="M35.3 322.7H132.1" stroke="#6a6a6a" stroke-width="1.7"/>
<path d="M33.2 373.4H35.8M33.2 355.3H35.8M33.2 337.2H35.8M52 381.7V384.3M71.8 381.7V384.3M91.6 381.7V384.3M111.4 381.7V384.3M131.2 381.7V384.3" stroke="#333" stroke-width="0.9"/>
<clipPath id="c13"><rect x="154.8" y="323" width="95.8" height="58.7"/></clipPath>
<path d="M154.8 370.5H250.6M154.8 352.6H250.6M154.8 334.7H250.6M161.2 323V381.7M181 323V381.7M200.8 323V381.7M220.6 323V381.7M240.4 323V381.7" stroke="#f5f5f5" stroke-width="0.5" fill="none"/>
<path d="M154.8 379.4H250.6M154.8 361.5H250.6M154.8 343.6H250.6M154.8 325.7H250.6M171.1 323V381.7M190.9 323V381.7M210.7 323V381.7M230.5 323V381.7M250.3 323V381.7" stroke="#ededed" stroke-width="0.8" fill="none"/>
<g clip-path="url(#c13)" fill="none" stroke-width="1.0" stroke-linejoin="round" stroke-opacity="0.8">
<polyline points="159.2,343.6 167.1,336.4 175,333.9 183,331.4 190.9,325.7 198.8,334.3 206.7,357.9 214.6,361.5 222.5,343.6 230.5,333.6 238.4,330.7 246.3,331.4" stroke="#440154"/>
<polyline points="159.2,343.6 167.1,338 175,336.2 183,335.8 190.9,336.9 198.8,339.7 206.7,361.4 214.6,361 222.5,342.5 230.5,335.5 238.4,332 246.3,336.3" stroke="#450c5e"/>
<polyline points="159.2,343.6 167.1,336.5 175,334.2 183,333.3 190.9,334.2 198.8,336.4 206.7,357.9 214.6,359.2 222.5,340.8 230.5,335.2 238.4,332.8 246.3,335.6" stroke="#461769"/>
<polyline points="159.2,343.6 167.1,338.5 175,337.6 183,337.8 190.9,339.3 198.8,342.1 206.7,363.7 214.6,363.9 222.5,345.1 230.5,338.5 238.4,335.1 246.3,338.4" stroke="#482273"/>
<polyline points="159.2,343.6 167.1,337.6 175,336.5 183,336.2 190.9,337.3 198.8,339 206.7,359.7 214.6,360.2 222.5,340.7 230.5,334.3 238.4,330.9 246.3,332.3" stroke="#462c7a"/>
<polyline points="159.2,343.6 167.1,337 175,335.3 183,334.8 190.9,336 198.8,338.3 206.7,359.6 214.6,360.4 222.5,341 230.5,334.1 238.4,330.1 246.3,331.1" stroke="#44367f"/>
<polyline points="159.2,343.6 167.1,337.5 175,335.9 183,335.5 190.9,336.8 198.8,339.5 206.7,361.2 214.6,361.8 222.5,343.2 230.5,336.9 238.4,333.7 246.3,336.7" stroke="#424085"/>
<polyline points="159.2,343.6 167.1,336.3 175,334.6 183,333.8 190.9,334.7 198.8,336.1 206.7,356.7 214.6,358.4 222.5,338.7 230.5,332.9 238.4,329.8 246.3,329.4" stroke="#3f4988"/>
<polyline points="159.2,343.6 167.1,336.9 175,335.2 183,334.5 190.9,335.4 198.8,336.9 206.7,357.5 214.6,358.3 222.5,338.5 230.5,332.1 238.4,328.5 246.3,329.1" stroke="#3b528a"/>
<polyline points="159.2,343.6 167.1,336.3 175,334.3 183,333 190.9,333.3 198.8,334.2 206.7,354.5 214.6,355.6 222.5,336.3 230.5,331.1 238.4,329.1 246.3,330.9" stroke="#375a8c"/>
<polyline points="159.2,343.6 167.1,336.4 175,333.6 183,331.1 190.9,325 198.8,333.6 206.7,357.2 214.6,362.9 222.5,342.9 230.5,332.9 238.4,330 246.3,330.7" stroke="#34628d"/>
<polyline points="159.2,343.6 167.1,338.3 175,336.7 183,336.8 190.9,338.7 198.8,342.7 206.7,365.5 214.6,365.4 222.5,347.2 230.5,339.7 238.4,335.2 246.3,339.1" stroke="#306a8d"/>
<polyline points="159.2,343.6 167.1,337.4 175,335.5 183,335 190.9,336.2 198.8,338.7 206.7,360.5 214.6,361.2 222.5,342.9 230.5,337 238.4,334.4 246.3,338.1" stroke="#2d728e"/>
<polyline points="159.2,343.6 167.1,338.6 175,337.3 183,337.5 190.9,339.3 198.8,342.8 206.7,365.3 214.6,365.2 222.5,346.9 230.5,339.8 238.4,336.1 246.3,340.4" stroke="#297a8e"/>
<polyline points="159.2,343.6 167.1,336.3 175,334 183,333 190.9,333.9 198.8,335.9 206.7,357.3 214.6,358.7 222.5,340.1 230.5,334.6 238.4,332.1 246.3,334.2" stroke="#27818d"/>
<polyline points="159.2,343.6 167.1,337.1 175,335.1 183,334.4 190.9,335.2 198.8,337.3 206.7,358.6 214.6,359.1 222.5,340.4 230.5,334.4 238.4,331.6 246.3,334.8" stroke="#24898d"/>
<polyline points="159.2,343.6 167.1,336.7 175,334.5 183,333.7 190.9,334.8 198.8,337.1 206.7,358.7 214.6,359.7 222.5,340.9 230.5,334.7 238.4,331.5 246.3,333.7" stroke="#21918c"/>
<polyline points="159.2,343.6 167.1,337.6 175,336 183,335.6 190.9,336.7 198.8,338.9 206.7,360.1 214.6,360.6 222.5,341.6 230.5,335.2 238.4,332 246.3,334.6" stroke="#21988a"/>
<polyline points="159.2,343.6 167.1,337.7 175,336 183,335.8 190.9,337.4 198.8,340.6 206.7,362.8 214.6,363.1 222.5,344.3 230.5,337.1 238.4,332.8 246.3,335.3" stroke="#229f87"/>
<polyline points="159.2,343.6 167.1,336.9 175,334.4 183,333.7 190.9,335.1 198.8,338.4 206.7,361 214.6,361.6 222.5,343.6 230.5,336.9 238.4,333.3 246.3,336.9" stroke="#22a784"/>
<polyline points="159.2,343.6 167.1,337.2 175,334.3 183,332.1 190.9,327.1 198.8,335 206.7,359.4 214.6,363.6 222.5,345 230.5,335 238.4,332.1 246.3,332.9" stroke="#2aae7f"/>
<polyline points="159.2,343.6 167.1,338.7 175,337.9 183,338.2 190.9,339.7 198.8,342.5 206.7,364.1 214.6,364.1 222.5,345.3 230.5,338.6 238.4,335.3 246.3,338.8" stroke="#35b579"/>
<polyline points="159.2,343.6 167.1,337 175,335.4 183,335.1 190.9,336.4 198.8,338.7 206.7,360.1 214.6,361.5 222.5,342.4 230.5,336.2 238.4,332.9 246.3,333.9" stroke="#40bc72"/>
<polyline points="159.2,343.6 167.1,337.2 175,335.6 183,335.3 190.9,336.6 198.8,339 206.7,360.5 214.6,361.4 222.5,342.4 230.5,336 238.4,332.6 246.3,334.2" stroke="#4ec26a"/>
<polyline points="159.2,343.6 167.1,336.7 175,334.7 183,334.2 190.9,335.7 198.8,338.4 206.7,360.2 214.6,361.2 222.5,342 230.5,335 238.4,330.6 246.3,331.3" stroke="#5fc860"/>
<polyline points="159.2,343.6 167.1,338.4 175,337.3 183,337.4 190.9,339.1 198.8,342 206.7,363.9 214.6,364 222.5,345.3 230.5,338.4 238.4,334.7 246.3,337.8" stroke="#70ce57"/>
<polyline points="159.2,343.6 167.1,336.4 175,333.7 183,332.7 190.9,333.8 198.8,336.8 206.7,359 214.6,360.1 222.5,342.1 230.5,336 238.4,332.9 246.3,336.3" stroke="#82d34c"/>
<polyline points="159.2,343.6 167.1,337 175,335.5 183,335.1 190.9,336.6 198.8,339.1 206.7,360.7 214.6,361.9 222.5,342.7 230.5,336.2 238.4,332.5 246.3,333.4" stroke="#97d73e"/>
<polyline points="159.2,343.6 167.1,335.6 175,333 183,331.6 190.9,332.1 198.8,333.5 206.7,354.4 214.6,356.1 222.5,337.1 230.5,331.8 238.4,329.4 246.3,330.9" stroke="#acdc31"/>
<polyline points="159.2,343.6 167.1,336.4 175,334.1 183,332.8 190.9,333 198.8,334.2 206.7,354.7 214.6,355.2 222.5,336 230.5,330.2 238.4,327.6 246.3,329.9" stroke="#c1e026"/>
<polyline points="159.2,343.6 167.1,336.4 175,337.9 183,352.2 190.9,360.1 198.8,365.1 206.7,379.4 214.6,370.8 222.5,355.8 230.5,352.9 238.4,352.2 246.3,354.3" stroke="#d5e226"/>
<polyline points="159.2,343.6 167.1,337.9 175,336.4 183,335 190.9,334.7 198.8,337.9 206.7,354.3 214.6,349 222.5,334.7 230.5,330.7 238.4,330 246.3,330.7" stroke="#e9e425"/>
<polyline points="159.2,343.6 167.1,337.6 175,335.9 183,335.4 190.9,336.3" stroke="#fde725"/>
</g>
<rect x="154.8" y="323" width="95.8" height="58.7" fill="none" stroke="#8a8a8a" stroke-width="1.1"/>
<rect x="154.8" y="299" width="95.8" height="24" fill="#dadada" stroke="#909090" stroke-width="1.1"/>
<path d="M154.3 322.7H251.1" stroke="#6a6a6a" stroke-width="1.7"/>
<path d="M152.2 379.4H154.8M152.2 361.5H154.8M152.2 343.6H154.8M152.2 325.7H154.8M171.1 381.7V384.3M190.9 381.7V384.3M210.7 381.7V384.3M230.5 381.7V384.3M250.3 381.7V384.3" stroke="#333" stroke-width="0.9"/>
<defs><linearGradient id="vg" x1="0" y1="1" x2="0" y2="0"><stop offset="0.0" stop-color="#440154"/><stop offset="0.1" stop-color="#482475"/><stop offset="0.2" stop-color="#414487"/><stop offset="0.3" stop-color="#355f8d"/><stop offset="0.4" stop-color="#2a788e"/><stop offset="0.5" stop-color="#21918c"/><stop offset="0.6" stop-color="#22a884"/><stop offset="0.7" stop-color="#44bf70"/><stop offset="0.8" stop-color="#7ad151"/><stop offset="0.9" stop-color="#bddf26"/><stop offset="1.0" stop-color="#fde725"/></linearGradient></defs>
<rect x="503.8" y="183.8" width="17.4" height="86.9" fill="url(#vg)"/>
<path d="M503.8 270.6H507.3M517.7 270.6H521.2M503.8 243.5H507.3M517.7 243.5H521.2M503.8 216.3H507.3M517.7 216.3H521.2M503.8 189.2H507.3M517.7 189.2H521.2" stroke="#fff" stroke-width="0.6"/>
<g font-family='"Liberation Sans", sans-serif' opacity="0.999" stroke-width="0.1"><text x="35.9" y="12.6" font-size="12.06" fill="#000" stroke="#000">Seasonal CES Monthly Employment from January 1990 to May 2022</text><text transform="translate(36,27.2) scale(1,0.93)" font-size="10" fill="#000" stroke="#000">By Total, Domain, and Supersector Employment</text><text x="83.7" y="44.5" font-size="8.15" fill="#1a1a1a" stroke="#1a1a1a" text-anchor="middle">Total All Industries,</text><text x="83.7" y="53.5" font-size="8.15" fill="#1a1a1a" stroke="#1a1a1a" text-anchor="middle">Gov't &amp; Priv.</text><text transform="translate(31.2,108.8) scale(1,1.1)" font-size="8" fill="#4d4d4d" stroke="#4d4d4d" text-anchor="end">90</text><text transform="translate(31.2,95.3) scale(1,1.1)" font-size="8" fill="#4d4d4d" stroke="#4d4d4d" text-anchor="end">95</text><text transform="translate(31.2,81.8) scale(1,1.1)" font-size="8" fill="#4d4d4d" stroke="#4d4d4d" text-anchor="end">100</text><text transform="translate(31.2,68.2) scale(1,1.1)" font-size="8" fill="#4d4d4d" stroke="#4d4d4d" text-anchor="end">105</text><text x="202.8" y="44.5" font-size="8.15" fill="#1a1a1a" stroke="#1a1a1a" text-anchor="middle">Goods-Producing,</text><text x="202.8" y="53.5" font-size="8.15" fill="#1a1a1a" stroke="#1a1a1a" text-anchor="middle">Priv.</text><text transform="translate(150.2,115.5) scale(1,1.1)" font-size="8" fill="#4d4d4d" stroke="#4d4d4d" text-anchor="end">90</text><text transform="translate(150.2,100.5) scale(1,1.1)" font-size="8" fill="#4d4d4d" stroke="#4d4d4d" text-anchor="end">95</text><text transform="translate(150.2,85.5) scale(1,1.1)" font-size="8" fill="#4d4d4d" stroke="#4d4d4d" text-anchor="end">100</text><text transform="translate(150.2,70.5) scale(1,1.1)" font-size="8" fill="#4d4d4d" stroke="#4d4d4d" text-anchor="end">105</text><text x="321.4" y="44.5" font-size="8.15" fill="#1a1a1a" stroke="#1a1a1a" text-anchor="middle">Service-Providing,</text><text x="321.4" y="53.5" font-size="8.15" fill="#1a1a1a" stroke="#1a1a1a" text-anchor="middle">Gov't &amp; Priv.</text><text transform="translate(268.9,108.4) scale(1,1.1)" font-size="8" fill="#4d4d4d" stroke="#4d4d4d" text-anchor="end">90</text><text transform="translate(268.9,95.2) scale(1,1.1)" font-size="8" fill="#4d4d4d" stroke="#4d4d4d" text-anchor="end">95</text><text transform="translate(268.9,82.1) scale(1,1.1)" font-size="8" fill="#4d4d4d" stroke="#4d4d4d" text-anchor="end">100</text><text transform="translate(268.9,68.9) scale(1,1.1)" font-size="8" fill="#4d4d4d" stroke="#4d4d4d" text-anchor="end">105</text><text x="440.4" y="44.5" font-size="8.15" fill="#1a1a1a" stroke="#1a1a1a" text-anchor="middle">Natural Resource</text><text x="440.4" y="53.5" font-size="8.15" fill="#1a1a1a" stroke="#1a1a1a" text-anchor="middle">&amp; Mining</text><text transform="translate(387.9,104.5) scale(1,1.1)" font-size="8" fill="#4d4d4d" stroke="#4d4d4d" text-anchor="end">90</text><text transform="translate(387.9,88.5) scale(1,1.1)" font-size="8" fill="#4d4d4d" stroke="#4d4d4d" text-anchor="end">100</text><text transform="translate(387.9,72.5) scale(1,1.1)" font-size="8" fill="#4d4d4d" stroke="#4d4d4d" text-anchor="end">110</text><text x="83.7" y="137.4" font-size="8.15" fill="#1a1a1a" stroke="#1a1a1a" text-anchor="middle">Construction</text><text transform="translate(31.2,204.2) scale(1,1.1)" font-size="8" fill="#4d4d4d" stroke="#4d4d4d" text-anchor="end">90</text><text transform="translate(31.2,187.8) scale(1,1.1)" font-size="8" fill="#4d4d4d" stroke="#4d4d4d" text-anchor="end">100</text><text transform="translate(31.2,171.3) scale(1,1.1)" font-size="8" fill="#4d4d4d" stroke="#4d4d4d" text-anchor="end">110</text><text transform="translate(31.2,155) scale(1,1.1)" font-size="8" fill="#4d4d4d" stroke="#4d4d4d" text-anchor="end">120</text><text x="202.8" y="137.4" font-size="8.15" fill="#1a1a1a" stroke="#1a1a1a" text-anchor="middle">Manufacturing</text><text transform="translate(150.2,203.7) scale(1,1.1)" font-size="8" fill="#4d4d4d" stroke="#4d4d4d" text-anchor="end">90</text><text transform="translate(150.2,185.2) scale(1,1.1)" font-size="8" fill="#4d4d4d" stroke="#4d4d4d" text-anchor="end">95</text><text transform="translate(150.2,166.7) scale(1,1.1)" font-size="8" fill="#4d4d4d" stroke="#4d4d4d" text-anchor="end">100</text><text x="321.4" y="132.7" font-size="8.15" fill="#1a1a1a" stroke="#1a1a1a" text-anchor="middle">Trade, Transportation</text><text x="321.4" y="141.7" font-size="8.15" fill="#1a1a1a" stroke="#1a1a1a" text-anchor="middle">&amp; Warehousing</text><text transform="translate(268.9,199.9) scale(1,1.1)" font-size="8" fill="#4d4d4d" stroke="#4d4d4d" text-anchor="end">90</text><text transform="translate(268.9,186.4) scale(1,1.1)" font-size="8" fill="#4d4d4d" stroke="#4d4d4d" text-anchor="end">95</text><text transform="translate(268.9,173) scale(1,1.1)" font-size="8" fill="#4d4d4d" stroke="#4d4d4d" text-anchor="end">100</text><text transform="translate(268.9,159.5) scale(1,1.1)" font-size="8" fill="#4d4d4d" stroke="#4d4d4d" text-anchor="end">105</text><text x="440.4" y="137.4" font-size="8.15" fill="#1a1a1a" stroke="#1a1a1a" text-anchor="middle">Information</text><text transform="translate(387.9,208.1) scale(1,1.1)" font-size="8" fill="#4d4d4d" stroke="#4d4d4d" text-anchor="end">90</text><text transform="translate(387.9,192.3) scale(1,1.1)" font-size="8" fill="#4d4d4d" stroke="#4d4d4d" text-anchor="end">95</text><text transform="translate(387.9,176.5) scale(1,1.1)" font-size="8" fill="#4d4d4d" stroke="#4d4d4d" text-anchor="end">100</text><text transform="translate(387.9,160.7) scale(1,1.1)" font-size="8" fill="#4d4d4d" stroke="#4d4d4d" text-anchor="end">105</text><text x="83.7" y="225.6" font-size="8.15" fill="#1a1a1a" stroke="#1a1a1a" text-anchor="middle">Financial Activities</text><text transform="translate(31.2,295.8) scale(1,1.1)" font-size="8" fill="#4d4d4d" stroke="#4d4d4d" text-anchor="end">97</text><text transform="translate(31.2,280.9) scale(1,1.1)" font-size="8" fill="#4d4d4d" stroke="#4d4d4d" text-anchor="end">99</text><text transform="translate(31.2,266) scale(1,1.1)" font-size="8" fill="#4d4d4d" stroke="#4d4d4d" text-anchor="end">101</text><text transform="translate(31.2,251.1) scale(1,1.1)" font-size="8" fill="#4d4d4d" stroke="#4d4d4d" text-anchor="end">103</text><text x="202.8" y="220.8" font-size="8.15" fill="#1a1a1a" stroke="#1a1a1a" text-anchor="middle">Professional &amp;</text><text x="202.8" y="229.8" font-size="8.15" fill="#1a1a1a" stroke="#1a1a1a" text-anchor="middle">Business Services</text><text transform="translate(150.2,296.3) scale(1,1.1)" font-size="8" fill="#4d4d4d" stroke="#4d4d4d" text-anchor="end">90</text><text transform="translate(150.2,281.5) scale(1,1.1)" font-size="8" fill="#4d4d4d" stroke="#4d4d4d" text-anchor="end">95</text><text transform="translate(150.2,266.6) scale(1,1.1)" font-size="8" fill="#4d4d4d" stroke="#4d4d4d" text-anchor="end">100</text><text transform="translate(150.2,251.8) scale(1,1.1)" font-size="8" fill="#4d4d4d" stroke="#4d4d4d" text-anchor="end">105</text><text x="321.4" y="220.8" font-size="8.15" fill="#1a1a1a" stroke="#1a1a1a" text-anchor="middle">Education &amp; Health</text><text x="321.4" y="229.8" font-size="8.15" fill="#1a1a1a" stroke="#1a1a1a" text-anchor="middle">Services</text><text transform="translate(268.9,293.6) scale(1,1.1)" font-size="8" fill="#4d4d4d" stroke="#4d4d4d" text-anchor="end">90</text><text transform="translate(268.9,276.9) scale(1,1.1)" font-size="8" fill="#4d4d4d" stroke="#4d4d4d" text-anchor="end">95</text><text transform="translate(268.9,260.2) scale(1,1.1)" font-size="8" fill="#4d4d4d" stroke="#4d4d4d" text-anchor="end">100</text><text transform="translate(268.9,243.6) scale(1,1.1)" font-size="8" fill="#4d4d4d" stroke="#4d4d4d" text-anchor="end">105</text><text transform="translate(289.8,304.2) scale(1,1.1)" font-size="8" fill="#4d4d4d" stroke="#4d4d4d" text-anchor="middle">2.5</text><text transform="translate(309.6,304.2) scale(1,1.1)" font-size="8" fill="#4d4d4d" stroke="#4d4d4d" text-anchor="middle">5.0</text><text transform="translate(329.4,304.2) scale(1,1.1)" font-size="8" fill="#4d4d4d" stroke="#4d4d4d" text-anchor="middle">7.5</text><text transform="translate(349.2,304.2) scale(1,1.1)" font-size="8" fill="#4d4d4d" stroke="#4d4d4d" text-anchor="middle">10.0</text><text transform="translate(369,304.2) scale(1,1.1)" font-size="8" fill="#4d4d4d" stroke="#4d4d4d" text-anchor="middle">12.5</text><text x="440.4" y="225.6" font-size="8.15" fill="#1a1a1a" stroke="#1a1a1a" text-anchor="middle">Leisure &amp; Hospitality</text><text transform="translate(387.9,296.6) scale(1,1.1)" font-size="8" fill="#4d4d4d" stroke="#4d4d4d" text-anchor="end">50</text><text transform="translate(387.9,281.7) scale(1,1.1)" font-size="8" fill="#4d4d4d" stroke="#4d4d4d" text-anchor="end">70</text><text transform="translate(387.9,266.8) scale(1,1.1)" font-size="8" fill="#4d4d4d" stroke="#4d4d4d" text-anchor="end">90</text><text transform="translate(387.9,251.8) scale(1,1.1)" font-size="8" fill="#4d4d4d" stroke="#4d4d4d" text-anchor="end">110</text><text transform="translate(408.7,304.2) scale(1,1.1)" font-size="8" fill="#4d4d4d" stroke="#4d4d4d" text-anchor="middle">2.5</text><text transform="translate(428.5,304.2) scale(1,1.1)" font-size="8" fill="#4d4d4d" stroke="#4d4d4d" text-anchor="middle">5.0</text><text transform="translate(448.3,304.2) scale(1,1.1)" font-size="8" fill="#4d4d4d" stroke="#4d4d4d" text-anchor="middle">7.5</text><text transform="translate(468.1,304.2) scale(1,1.1)" font-size="8" fill="#4d4d4d" stroke="#4d4d4d" text-anchor="middle">10.0</text><text transform="translate(487.9,304.2) scale(1,1.1)" font-size="8" fill="#4d4d4d" stroke="#4d4d4d" text-anchor="middle">12.5</text><text x="83.7" y="313.7" font-size="8.15" fill="#1a1a1a" stroke="#1a1a1a" text-anchor="middle">Other Services</text><text transform="translate(31.2,376.5) scale(1,1.1)" font-size="8" fill="#4d4d4d" stroke="#4d4d4d" text-anchor="end">80</text><text transform="translate(31.2,358.4) scale(1,1.1)" font-size="8" fill="#4d4d4d" stroke="#4d4d4d" text-anchor="end">90</text><text transform="translate(31.2,340.3) scale(1,1.1)" font-size="8" fill="#4d4d4d" stroke="#4d4d4d" text-anchor="end">100</text><text transform="translate(52,392.4) scale(1,1.1)" font-size="8" fill="#4d4d4d" stroke="#4d4d4d" text-anchor="middle">2.5</text><text transform="translate(71.8,392.4) scale(1,1.1)" font-size="8" fill="#4d4d4d" stroke="#4d4d4d" text-anchor="middle">5.0</text><text transform="translate(91.6,392.4) scale(1,1.1)" font-size="8" fill="#4d4d4d" stroke="#4d4d4d" text-anchor="middle">7.5</text><text transform="translate(111.4,392.4) scale(1,1.1)" font-size="8" fill="#4d4d4d" stroke="#4d4d4d" text-anchor="middle">10.0</text><text transform="translate(131.2,392.4) scale(1,1.1)" font-size="8" fill="#4d4d4d" stroke="#4d4d4d" text-anchor="middle">12.5</text><text x="202.8" y="309" font-size="8.15" fill="#1a1a1a" stroke="#1a1a1a" text-anchor="middle">Government</text><text x="202.8" y="318" font-size="8.15" fill="#1a1a1a" stroke="#1a1a1a" text-anchor="middle">Fed./St./Local</text><text transform="translate(150.2,382.6) scale(1,1.1)" font-size="8" fill="#4d4d4d" stroke="#4d4d4d" text-anchor="end">90</text><text transform="translate(150.2,364.6) scale(1,1.1)" font-size="8" fill="#4d4d4d" stroke="#4d4d4d" text-anchor="end">95</text><text transform="translate(150.2,346.8) scale(1,1.1)" font-size="8" fill="#4d4d4d" stroke="#4d4d4d" text-anchor="end">100</text><text transform="translate(150.2,328.9) scale(1,1.1)" font-size="8" fill="#4d4d4d" stroke="#4d4d4d" text-anchor="end">105</text><text transform="translate(171.1,392.4) scale(1,1.1)" font-size="8" fill="#4d4d4d" stroke="#4d4d4d" text-anchor="middle">2.5</text><text transform="translate(190.9,392.4) scale(1,1.1)" font-size="8" fill="#4d4d4d" stroke="#4d4d4d" text-anchor="middle">5.0</text><text transform="translate(210.7,392.4) scale(1,1.1)" font-size="8" fill="#4d4d4d" stroke="#4d4d4d" text-anchor="middle">7.5</text><text transform="translate(230.5,392.4) scale(1,1.1)" font-size="8" fill="#4d4d4d" stroke="#4d4d4d" text-anchor="middle">10.0</text><text transform="translate(250.3,392.4) scale(1,1.1)" font-size="8" fill="#4d4d4d" stroke="#4d4d4d" text-anchor="middle">12.5</text><text x="262.2" y="403.5" font-size="10" fill="#000" stroke="#000" text-anchor="middle">Date</text><text transform="translate(14.2,219.5) rotate(-90)" font-size="10" fill="#000" stroke="#000" text-anchor="middle">Index (January Employment Level = 100)</text><text x="504.3" y="178" font-size="10" fill="#000" stroke="#000">Year</text><text x="525.5" y="273.2" font-size="8.6" fill="#1a1a1a" stroke="#1a1a1a">1990</text><text x="525.5" y="246.1" font-size="8.6" fill="#1a1a1a" stroke="#1a1a1a">2000</text><text x="525.5" y="218.9" font-size="8.6" fill="#1a1a1a" stroke="#1a1a1a">2010</text><text x="525.5" y="191.8" font-size="8.6" fill="#1a1a1a" stroke="#1a1a1a">2020</text></g>
</g>
</svg></body></html>
